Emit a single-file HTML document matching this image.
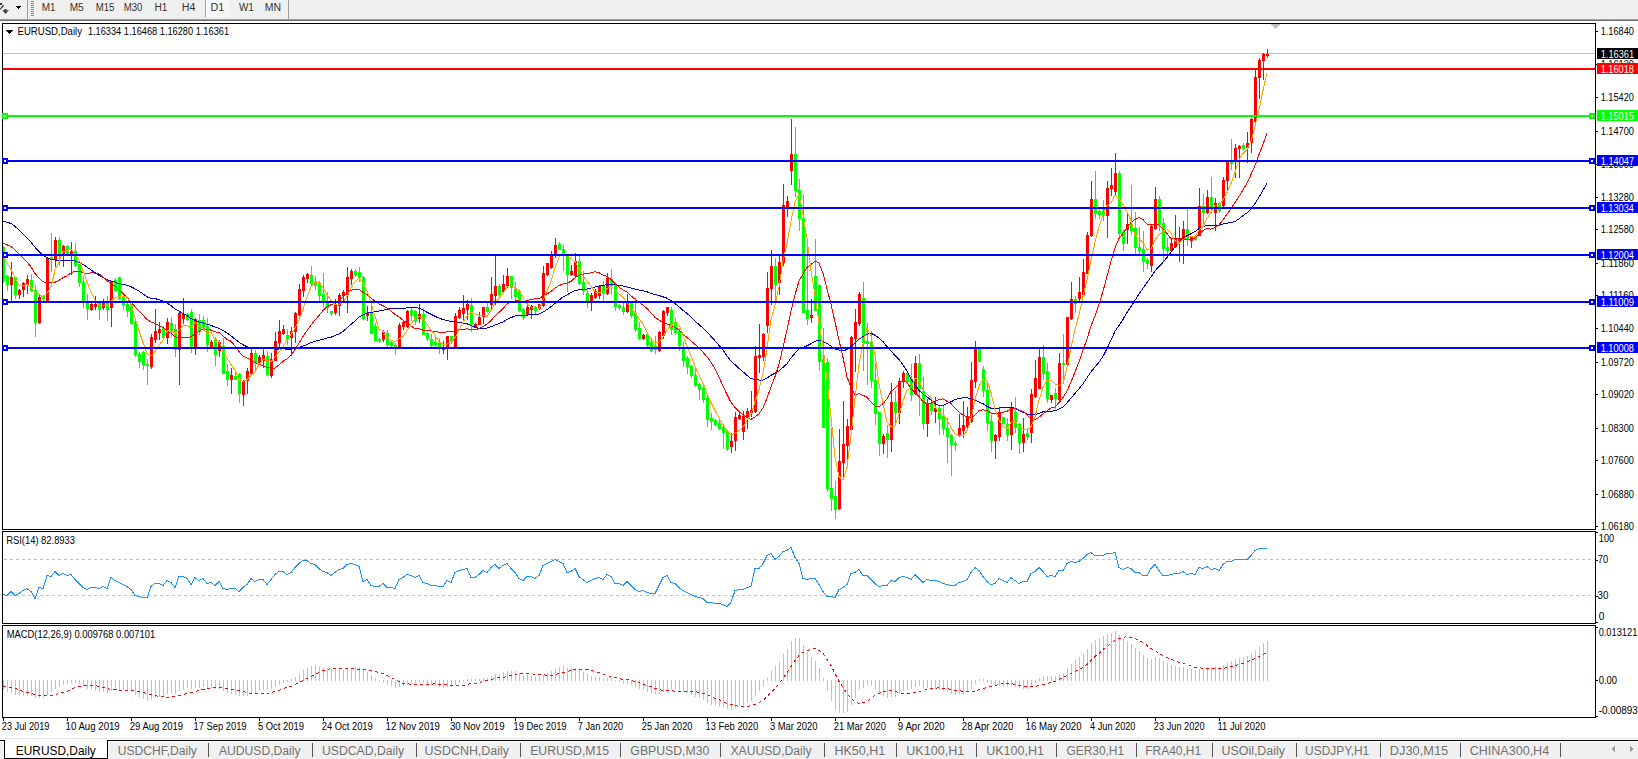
<!DOCTYPE html>
<html><head><meta charset="utf-8"><style>
html,body{margin:0;padding:0;width:1638px;height:759px;overflow:hidden;background:#fff;}
#tb{position:absolute;left:0;top:0;width:1638px;height:19px;background:#f0f0f0;font:10px "Liberation Sans",sans-serif;color:#333;line-height:16px;}
svg text{font-family:"Liberation Sans",sans-serif;}
</style></head><body>
<div id="tb"></div>
<svg style="position:absolute;left:0;top:0" width="1638" height="759" viewBox="0 0 1638 759" shape-rendering="crispEdges">
<rect x="0" y="19" width="1638" height="1" fill="#a0a0a0"/>
<rect x="0" y="20" width="1638" height="1" fill="#6e6e6e"/>
<rect x="27" y="0" width="1" height="19" fill="#a0a0a0"/>
<rect x="288" y="0" width="1" height="19" fill="#a0a0a0"/>
<rect x="205" y="0" width="1" height="17" fill="#a0a0a0"/>
<path d="M16,6 L21,6 L18.5,9 Z" fill="#000"/>
<g fill="#888"><rect x="31" y="1" width="3" height="1"/><rect x="31" y="3" width="3" height="1"/><rect x="31" y="5" width="3" height="1"/><rect x="31" y="7" width="3" height="1"/><rect x="31" y="9" width="3" height="1"/><rect x="31" y="11" width="3" height="1"/><rect x="31" y="13" width="3" height="1"/><rect x="31" y="15" width="3" height="1"/></g>
<path d="M0,3 L1.5,3 L2,4.5 L0,4.5 Z" fill="#333"/><line x1="3.6" y1="5.3" x2="0" y2="9.4" stroke="#333" stroke-width="1.3" shape-rendering="auto"/>
<path d="M2,10.2 L9,10.2 L5.5,14 Z M4,9.2 L7,9.2 L7,10.3 L4,10.3 Z" fill="#4a4a4a" shape-rendering="auto"/>
<rect x="206" y="0" width="24" height="17" fill="#f7f7f7"/>
<text x="41.69" y="11" fill="#333" font-size="10" textLength="13.80" lengthAdjust="spacingAndGlyphs">M1</text>
<text x="69.67" y="11" fill="#333" font-size="10" textLength="14.05" lengthAdjust="spacingAndGlyphs">M5</text>
<text x="95.71" y="11" fill="#333" font-size="10" textLength="18.69" lengthAdjust="spacingAndGlyphs">M15</text>
<text x="123.71" y="11" fill="#333" font-size="10" textLength="18.66" lengthAdjust="spacingAndGlyphs">M30</text>
<text x="154.46" y="11" fill="#333" font-size="10" textLength="13.03" lengthAdjust="spacingAndGlyphs">H1</text>
<text x="181.73" y="11" fill="#333" font-size="10" textLength="13.58" lengthAdjust="spacingAndGlyphs">H4</text>
<text x="210.62" y="11" fill="#333" font-size="10" textLength="13.70" lengthAdjust="spacingAndGlyphs">D1</text>
<text x="238.96" y="11" fill="#333" font-size="10" textLength="14.83" lengthAdjust="spacingAndGlyphs">W1</text>
<text x="264.74" y="11" fill="#333" font-size="10" textLength="16.32" lengthAdjust="spacingAndGlyphs">MN</text>
<rect x="2" y="23" width="1594" height="1" fill="#000"/>
<rect x="2" y="529" width="1594" height="1" fill="#000"/>
<rect x="2" y="23" width="1" height="507" fill="#000"/>
<rect x="1595" y="23" width="1" height="507" fill="#000"/>
<rect x="2" y="531" width="1594" height="1" fill="#000"/>
<rect x="2" y="623" width="1594" height="1" fill="#000"/>
<rect x="2" y="531" width="1" height="93" fill="#000"/>
<rect x="1595" y="531" width="1" height="93" fill="#000"/>
<rect x="2" y="625" width="1594" height="1" fill="#000"/>
<rect x="2" y="717" width="1594" height="1" fill="#000"/>
<rect x="2" y="625" width="1" height="93" fill="#000"/>
<rect x="1595" y="625" width="1" height="93" fill="#000"/>
<svg x="3" y="24" width="1592" height="505" viewBox="3 24 1592 505" overflow="hidden">
<rect x="3" y="53" width="1592" height="1" fill="#c0c0c0"/>
<rect x="3" y="246" width="1" height="37" fill="#00ff00"/>
<rect x="2" y="247" width="3" height="34" fill="#00ff00"/>
<rect x="7" y="275" width="1" height="16" fill="#00ff00"/>
<rect x="6" y="276" width="3" height="9" fill="#00ff00"/>
<rect x="11" y="262" width="1" height="40" fill="#ff0000"/>
<rect x="10" y="277" width="3" height="8" fill="#ff0000"/>
<rect x="15" y="277" width="1" height="22" fill="#00ff00"/>
<rect x="14" y="277" width="3" height="18" fill="#00ff00"/>
<rect x="19" y="289" width="1" height="10" fill="#ff0000"/>
<rect x="18" y="290" width="3" height="5" fill="#ff0000"/>
<rect x="23" y="282" width="1" height="15" fill="#ff0000"/>
<rect x="22" y="283" width="3" height="7" fill="#ff0000"/>
<rect x="27" y="275" width="1" height="19" fill="#ff0000"/>
<rect x="26" y="279" width="3" height="6" fill="#ff0000"/>
<rect x="31" y="274" width="1" height="18" fill="#00ff00"/>
<rect x="30" y="280" width="3" height="11" fill="#00ff00"/>
<rect x="35" y="285" width="1" height="52" fill="#00ff00"/>
<rect x="34" y="290" width="3" height="33" fill="#00ff00"/>
<rect x="39" y="295" width="1" height="29" fill="#ff0000"/>
<rect x="38" y="297" width="3" height="26" fill="#ff0000"/>
<rect x="43" y="295" width="1" height="6" fill="#00ff00"/>
<rect x="42" y="296" width="3" height="3" fill="#00ff00"/>
<rect x="47" y="258" width="1" height="44" fill="#ff0000"/>
<rect x="46" y="258" width="3" height="44" fill="#ff0000"/>
<rect x="51" y="233" width="1" height="39" fill="#00ff00"/>
<rect x="50" y="257" width="3" height="3" fill="#00ff00"/>
<rect x="55" y="237" width="1" height="30" fill="#ff0000"/>
<rect x="54" y="240" width="3" height="20" fill="#ff0000"/>
<rect x="59" y="237" width="1" height="29" fill="#00ff00"/>
<rect x="58" y="240" width="3" height="15" fill="#00ff00"/>
<rect x="63" y="245" width="1" height="22" fill="#ff0000"/>
<rect x="62" y="246" width="3" height="8" fill="#ff0000"/>
<rect x="67" y="245" width="1" height="10" fill="#00ff00"/>
<rect x="66" y="246" width="3" height="9" fill="#00ff00"/>
<rect x="71" y="242" width="1" height="33" fill="#ff0000"/>
<rect x="70" y="251" width="3" height="4" fill="#ff0000"/>
<rect x="75" y="243" width="1" height="24" fill="#00ff00"/>
<rect x="74" y="251" width="3" height="15" fill="#00ff00"/>
<rect x="79" y="264" width="1" height="23" fill="#00ff00"/>
<rect x="78" y="264" width="3" height="19" fill="#00ff00"/>
<rect x="83" y="276" width="1" height="32" fill="#00ff00"/>
<rect x="82" y="282" width="3" height="20" fill="#00ff00"/>
<rect x="87" y="294" width="1" height="26" fill="#00ff00"/>
<rect x="86" y="302" width="3" height="7" fill="#00ff00"/>
<rect x="91" y="303" width="1" height="8" fill="#ff0000"/>
<rect x="90" y="304" width="3" height="6" fill="#ff0000"/>
<rect x="95" y="296" width="1" height="14" fill="#ff0000"/>
<rect x="94" y="304" width="3" height="3" fill="#ff0000"/>
<rect x="99" y="302" width="1" height="18" fill="#00ff00"/>
<rect x="98" y="303" width="3" height="7" fill="#00ff00"/>
<rect x="103" y="299" width="1" height="11" fill="#ff0000"/>
<rect x="102" y="302" width="3" height="6" fill="#ff0000"/>
<rect x="107" y="296" width="1" height="25" fill="#00ff00"/>
<rect x="106" y="303" width="3" height="7" fill="#00ff00"/>
<rect x="111" y="281" width="1" height="46" fill="#ff0000"/>
<rect x="110" y="281" width="3" height="27" fill="#ff0000"/>
<rect x="115" y="278" width="1" height="14" fill="#00ff00"/>
<rect x="114" y="280" width="3" height="11" fill="#00ff00"/>
<rect x="119" y="277" width="1" height="23" fill="#00ff00"/>
<rect x="118" y="277" width="3" height="22" fill="#00ff00"/>
<rect x="123" y="295" width="1" height="15" fill="#00ff00"/>
<rect x="122" y="297" width="3" height="8" fill="#00ff00"/>
<rect x="127" y="303" width="1" height="14" fill="#00ff00"/>
<rect x="126" y="304" width="3" height="7" fill="#00ff00"/>
<rect x="131" y="304" width="1" height="21" fill="#00ff00"/>
<rect x="130" y="306" width="3" height="18" fill="#00ff00"/>
<rect x="135" y="320" width="1" height="37" fill="#00ff00"/>
<rect x="134" y="322" width="3" height="33" fill="#00ff00"/>
<rect x="139" y="352" width="1" height="16" fill="#00ff00"/>
<rect x="138" y="354" width="3" height="8" fill="#00ff00"/>
<rect x="143" y="351" width="1" height="19" fill="#00ff00"/>
<rect x="142" y="352" width="3" height="13" fill="#00ff00"/>
<rect x="147" y="359" width="1" height="26" fill="#00ff00"/>
<rect x="146" y="364" width="3" height="2" fill="#00ff00"/>
<rect x="151" y="334" width="1" height="35" fill="#ff0000"/>
<rect x="150" y="337" width="3" height="30" fill="#ff0000"/>
<rect x="155" y="309" width="1" height="34" fill="#ff0000"/>
<rect x="154" y="331" width="3" height="9" fill="#ff0000"/>
<rect x="159" y="322" width="1" height="18" fill="#ff0000"/>
<rect x="158" y="329" width="3" height="4" fill="#ff0000"/>
<rect x="163" y="326" width="1" height="13" fill="#00ff00"/>
<rect x="162" y="328" width="3" height="10" fill="#00ff00"/>
<rect x="167" y="318" width="1" height="26" fill="#ff0000"/>
<rect x="166" y="322" width="3" height="16" fill="#ff0000"/>
<rect x="171" y="317" width="1" height="20" fill="#00ff00"/>
<rect x="170" y="323" width="3" height="8" fill="#00ff00"/>
<rect x="175" y="324" width="1" height="33" fill="#00ff00"/>
<rect x="174" y="329" width="3" height="21" fill="#00ff00"/>
<rect x="179" y="312" width="1" height="73" fill="#ff0000"/>
<rect x="178" y="313" width="3" height="37" fill="#ff0000"/>
<rect x="183" y="298" width="1" height="26" fill="#ff0000"/>
<rect x="182" y="314" width="3" height="5" fill="#ff0000"/>
<rect x="187" y="313" width="1" height="8" fill="#00ff00"/>
<rect x="186" y="314" width="3" height="6" fill="#00ff00"/>
<rect x="191" y="309" width="1" height="44" fill="#00ff00"/>
<rect x="190" y="312" width="3" height="35" fill="#00ff00"/>
<rect x="195" y="318" width="1" height="37" fill="#ff0000"/>
<rect x="194" y="319" width="3" height="28" fill="#ff0000"/>
<rect x="199" y="314" width="1" height="21" fill="#00ff00"/>
<rect x="198" y="320" width="3" height="12" fill="#00ff00"/>
<rect x="203" y="316" width="1" height="15" fill="#00ff00"/>
<rect x="202" y="320" width="3" height="7" fill="#00ff00"/>
<rect x="207" y="318" width="1" height="34" fill="#00ff00"/>
<rect x="206" y="326" width="3" height="19" fill="#00ff00"/>
<rect x="211" y="340" width="1" height="9" fill="#ff0000"/>
<rect x="210" y="342" width="3" height="6" fill="#ff0000"/>
<rect x="215" y="337" width="1" height="29" fill="#00ff00"/>
<rect x="214" y="339" width="3" height="16" fill="#00ff00"/>
<rect x="219" y="340" width="1" height="17" fill="#ff0000"/>
<rect x="218" y="342" width="3" height="9" fill="#ff0000"/>
<rect x="223" y="338" width="1" height="36" fill="#00ff00"/>
<rect x="222" y="346" width="3" height="28" fill="#00ff00"/>
<rect x="227" y="364" width="1" height="22" fill="#00ff00"/>
<rect x="226" y="371" width="3" height="9" fill="#00ff00"/>
<rect x="231" y="368" width="1" height="26" fill="#ff0000"/>
<rect x="230" y="375" width="3" height="5" fill="#ff0000"/>
<rect x="235" y="371" width="1" height="9" fill="#00ff00"/>
<rect x="234" y="376" width="3" height="4" fill="#00ff00"/>
<rect x="239" y="373" width="1" height="30" fill="#00ff00"/>
<rect x="238" y="374" width="3" height="20" fill="#00ff00"/>
<rect x="243" y="380" width="1" height="26" fill="#ff0000"/>
<rect x="242" y="381" width="3" height="14" fill="#ff0000"/>
<rect x="247" y="368" width="1" height="26" fill="#ff0000"/>
<rect x="246" y="371" width="3" height="10" fill="#ff0000"/>
<rect x="251" y="349" width="1" height="27" fill="#ff0000"/>
<rect x="250" y="353" width="3" height="21" fill="#ff0000"/>
<rect x="255" y="350" width="1" height="21" fill="#00ff00"/>
<rect x="254" y="353" width="3" height="10" fill="#00ff00"/>
<rect x="259" y="355" width="1" height="9" fill="#ff0000"/>
<rect x="258" y="357" width="3" height="6" fill="#ff0000"/>
<rect x="263" y="349" width="1" height="19" fill="#ff0000"/>
<rect x="262" y="355" width="3" height="6" fill="#ff0000"/>
<rect x="267" y="351" width="1" height="25" fill="#00ff00"/>
<rect x="266" y="356" width="3" height="19" fill="#00ff00"/>
<rect x="271" y="353" width="1" height="25" fill="#ff0000"/>
<rect x="270" y="359" width="3" height="17" fill="#ff0000"/>
<rect x="275" y="332" width="1" height="29" fill="#ff0000"/>
<rect x="274" y="341" width="3" height="20" fill="#ff0000"/>
<rect x="279" y="320" width="1" height="27" fill="#ff0000"/>
<rect x="278" y="331" width="3" height="12" fill="#ff0000"/>
<rect x="283" y="325" width="1" height="10" fill="#ff0000"/>
<rect x="282" y="329" width="3" height="5" fill="#ff0000"/>
<rect x="287" y="329" width="1" height="16" fill="#00ff00"/>
<rect x="286" y="335" width="3" height="4" fill="#00ff00"/>
<rect x="291" y="327" width="1" height="28" fill="#ff0000"/>
<rect x="290" y="331" width="3" height="7" fill="#ff0000"/>
<rect x="295" y="312" width="1" height="31" fill="#ff0000"/>
<rect x="294" y="313" width="3" height="19" fill="#ff0000"/>
<rect x="299" y="284" width="1" height="32" fill="#ff0000"/>
<rect x="298" y="289" width="3" height="26" fill="#ff0000"/>
<rect x="303" y="275" width="1" height="22" fill="#ff0000"/>
<rect x="302" y="277" width="3" height="14" fill="#ff0000"/>
<rect x="307" y="273" width="1" height="10" fill="#ff0000"/>
<rect x="306" y="274" width="3" height="5" fill="#ff0000"/>
<rect x="311" y="266" width="1" height="20" fill="#00ff00"/>
<rect x="310" y="275" width="3" height="9" fill="#00ff00"/>
<rect x="315" y="276" width="1" height="14" fill="#00ff00"/>
<rect x="314" y="281" width="3" height="5" fill="#00ff00"/>
<rect x="319" y="281" width="1" height="21" fill="#00ff00"/>
<rect x="318" y="283" width="3" height="13" fill="#00ff00"/>
<rect x="323" y="273" width="1" height="34" fill="#00ff00"/>
<rect x="322" y="294" width="3" height="9" fill="#00ff00"/>
<rect x="327" y="292" width="1" height="21" fill="#00ff00"/>
<rect x="326" y="303" width="3" height="5" fill="#00ff00"/>
<rect x="331" y="311" width="1" height="5" fill="#00ff00"/>
<rect x="330" y="311" width="3" height="3" fill="#00ff00"/>
<rect x="335" y="299" width="1" height="16" fill="#ff0000"/>
<rect x="334" y="305" width="3" height="8" fill="#ff0000"/>
<rect x="339" y="293" width="1" height="23" fill="#ff0000"/>
<rect x="338" y="295" width="3" height="11" fill="#ff0000"/>
<rect x="343" y="290" width="1" height="11" fill="#ff0000"/>
<rect x="342" y="292" width="3" height="4" fill="#ff0000"/>
<rect x="347" y="267" width="1" height="46" fill="#ff0000"/>
<rect x="346" y="277" width="3" height="18" fill="#ff0000"/>
<rect x="351" y="269" width="1" height="16" fill="#ff0000"/>
<rect x="350" y="271" width="3" height="8" fill="#ff0000"/>
<rect x="355" y="269" width="1" height="8" fill="#00ff00"/>
<rect x="354" y="271" width="3" height="4" fill="#00ff00"/>
<rect x="359" y="267" width="1" height="15" fill="#00ff00"/>
<rect x="358" y="272" width="3" height="6" fill="#00ff00"/>
<rect x="363" y="276" width="1" height="44" fill="#00ff00"/>
<rect x="362" y="277" width="3" height="42" fill="#00ff00"/>
<rect x="367" y="306" width="1" height="15" fill="#ff0000"/>
<rect x="366" y="313" width="3" height="3" fill="#ff0000"/>
<rect x="371" y="306" width="1" height="28" fill="#00ff00"/>
<rect x="370" y="312" width="3" height="22" fill="#00ff00"/>
<rect x="375" y="323" width="1" height="19" fill="#00ff00"/>
<rect x="374" y="326" width="3" height="15" fill="#00ff00"/>
<rect x="379" y="338" width="1" height="5" fill="#00ff00"/>
<rect x="378" y="339" width="3" height="2" fill="#00ff00"/>
<rect x="383" y="330" width="1" height="12" fill="#ff0000"/>
<rect x="382" y="332" width="3" height="8" fill="#ff0000"/>
<rect x="387" y="330" width="1" height="18" fill="#00ff00"/>
<rect x="386" y="333" width="3" height="12" fill="#00ff00"/>
<rect x="391" y="341" width="1" height="8" fill="#00ff00"/>
<rect x="390" y="342" width="3" height="4" fill="#00ff00"/>
<rect x="395" y="343" width="1" height="12" fill="#00ff00"/>
<rect x="394" y="345" width="3" height="4" fill="#00ff00"/>
<rect x="399" y="323" width="1" height="26" fill="#ff0000"/>
<rect x="398" y="325" width="3" height="23" fill="#ff0000"/>
<rect x="403" y="320" width="1" height="10" fill="#ff0000"/>
<rect x="402" y="322" width="3" height="5" fill="#ff0000"/>
<rect x="407" y="310" width="1" height="18" fill="#ff0000"/>
<rect x="406" y="311" width="3" height="16" fill="#ff0000"/>
<rect x="411" y="308" width="1" height="13" fill="#00ff00"/>
<rect x="410" y="310" width="3" height="6" fill="#00ff00"/>
<rect x="415" y="310" width="1" height="15" fill="#00ff00"/>
<rect x="414" y="311" width="3" height="10" fill="#00ff00"/>
<rect x="419" y="304" width="1" height="19" fill="#ff0000"/>
<rect x="418" y="314" width="3" height="5" fill="#ff0000"/>
<rect x="423" y="308" width="1" height="27" fill="#00ff00"/>
<rect x="422" y="314" width="3" height="21" fill="#00ff00"/>
<rect x="427" y="332" width="1" height="9" fill="#00ff00"/>
<rect x="426" y="333" width="3" height="6" fill="#00ff00"/>
<rect x="431" y="334" width="1" height="14" fill="#00ff00"/>
<rect x="430" y="339" width="3" height="7" fill="#00ff00"/>
<rect x="435" y="337" width="1" height="11" fill="#00ff00"/>
<rect x="434" y="342" width="3" height="3" fill="#00ff00"/>
<rect x="439" y="338" width="1" height="16" fill="#00ff00"/>
<rect x="438" y="343" width="3" height="6" fill="#00ff00"/>
<rect x="443" y="341" width="1" height="13" fill="#ff0000"/>
<rect x="442" y="347" width="3" height="3" fill="#ff0000"/>
<rect x="447" y="336" width="1" height="24" fill="#ff0000"/>
<rect x="446" y="336" width="3" height="11" fill="#ff0000"/>
<rect x="451" y="336" width="1" height="8" fill="#00ff00"/>
<rect x="450" y="336" width="3" height="6" fill="#00ff00"/>
<rect x="455" y="313" width="1" height="35" fill="#ff0000"/>
<rect x="454" y="316" width="3" height="31" fill="#ff0000"/>
<rect x="459" y="307" width="1" height="12" fill="#ff0000"/>
<rect x="458" y="310" width="3" height="8" fill="#ff0000"/>
<rect x="463" y="295" width="1" height="25" fill="#ff0000"/>
<rect x="462" y="308" width="3" height="6" fill="#ff0000"/>
<rect x="467" y="300" width="1" height="20" fill="#ff0000"/>
<rect x="466" y="304" width="3" height="6" fill="#ff0000"/>
<rect x="471" y="298" width="1" height="34" fill="#00ff00"/>
<rect x="470" y="305" width="3" height="20" fill="#00ff00"/>
<rect x="475" y="323" width="1" height="5" fill="#ff0000"/>
<rect x="474" y="324" width="3" height="3" fill="#ff0000"/>
<rect x="479" y="312" width="1" height="13" fill="#ff0000"/>
<rect x="478" y="317" width="3" height="8" fill="#ff0000"/>
<rect x="483" y="307" width="1" height="17" fill="#ff0000"/>
<rect x="482" y="307" width="3" height="10" fill="#ff0000"/>
<rect x="487" y="303" width="1" height="10" fill="#00ff00"/>
<rect x="486" y="307" width="3" height="5" fill="#00ff00"/>
<rect x="491" y="277" width="1" height="33" fill="#ff0000"/>
<rect x="490" y="294" width="3" height="11" fill="#ff0000"/>
<rect x="495" y="255" width="1" height="50" fill="#ff0000"/>
<rect x="494" y="286" width="3" height="10" fill="#ff0000"/>
<rect x="499" y="284" width="1" height="15" fill="#00ff00"/>
<rect x="498" y="286" width="3" height="9" fill="#00ff00"/>
<rect x="503" y="275" width="1" height="18" fill="#ff0000"/>
<rect x="502" y="284" width="3" height="8" fill="#ff0000"/>
<rect x="507" y="268" width="1" height="20" fill="#ff0000"/>
<rect x="506" y="276" width="3" height="10" fill="#ff0000"/>
<rect x="511" y="276" width="1" height="23" fill="#00ff00"/>
<rect x="510" y="276" width="3" height="12" fill="#00ff00"/>
<rect x="515" y="282" width="1" height="19" fill="#00ff00"/>
<rect x="514" y="289" width="3" height="8" fill="#00ff00"/>
<rect x="519" y="289" width="1" height="23" fill="#00ff00"/>
<rect x="518" y="291" width="3" height="20" fill="#00ff00"/>
<rect x="523" y="308" width="1" height="12" fill="#00ff00"/>
<rect x="522" y="309" width="3" height="9" fill="#00ff00"/>
<rect x="527" y="305" width="1" height="11" fill="#ff0000"/>
<rect x="526" y="307" width="3" height="8" fill="#ff0000"/>
<rect x="531" y="305" width="1" height="14" fill="#ff0000"/>
<rect x="530" y="306" width="3" height="4" fill="#ff0000"/>
<rect x="535" y="306" width="1" height="9" fill="#00ff00"/>
<rect x="534" y="307" width="3" height="4" fill="#00ff00"/>
<rect x="539" y="304" width="1" height="6" fill="#ff0000"/>
<rect x="538" y="304" width="3" height="5" fill="#ff0000"/>
<rect x="543" y="266" width="1" height="41" fill="#ff0000"/>
<rect x="542" y="273" width="3" height="33" fill="#ff0000"/>
<rect x="547" y="263" width="1" height="13" fill="#ff0000"/>
<rect x="546" y="263" width="3" height="12" fill="#ff0000"/>
<rect x="551" y="251" width="1" height="18" fill="#ff0000"/>
<rect x="550" y="256" width="3" height="12" fill="#ff0000"/>
<rect x="555" y="238" width="1" height="20" fill="#ff0000"/>
<rect x="554" y="245" width="3" height="9" fill="#ff0000"/>
<rect x="559" y="242" width="1" height="8" fill="#00ff00"/>
<rect x="558" y="244" width="3" height="6" fill="#00ff00"/>
<rect x="563" y="245" width="1" height="26" fill="#00ff00"/>
<rect x="562" y="249" width="3" height="5" fill="#00ff00"/>
<rect x="567" y="256" width="1" height="36" fill="#00ff00"/>
<rect x="566" y="256" width="3" height="19" fill="#00ff00"/>
<rect x="571" y="265" width="1" height="11" fill="#ff0000"/>
<rect x="570" y="271" width="3" height="4" fill="#ff0000"/>
<rect x="575" y="253" width="1" height="24" fill="#ff0000"/>
<rect x="574" y="261" width="3" height="15" fill="#ff0000"/>
<rect x="579" y="256" width="1" height="29" fill="#00ff00"/>
<rect x="578" y="261" width="3" height="23" fill="#00ff00"/>
<rect x="583" y="271" width="1" height="24" fill="#00ff00"/>
<rect x="582" y="282" width="3" height="9" fill="#00ff00"/>
<rect x="587" y="290" width="1" height="18" fill="#00ff00"/>
<rect x="586" y="293" width="3" height="9" fill="#00ff00"/>
<rect x="591" y="293" width="1" height="18" fill="#ff0000"/>
<rect x="590" y="295" width="3" height="6" fill="#ff0000"/>
<rect x="595" y="289" width="1" height="10" fill="#ff0000"/>
<rect x="594" y="291" width="3" height="7" fill="#ff0000"/>
<rect x="599" y="285" width="1" height="14" fill="#ff0000"/>
<rect x="598" y="286" width="3" height="10" fill="#ff0000"/>
<rect x="603" y="281" width="1" height="21" fill="#00ff00"/>
<rect x="602" y="286" width="3" height="8" fill="#00ff00"/>
<rect x="607" y="273" width="1" height="22" fill="#ff0000"/>
<rect x="606" y="278" width="3" height="16" fill="#ff0000"/>
<rect x="611" y="269" width="1" height="26" fill="#00ff00"/>
<rect x="610" y="279" width="3" height="7" fill="#00ff00"/>
<rect x="615" y="283" width="1" height="28" fill="#00ff00"/>
<rect x="614" y="284" width="3" height="23" fill="#00ff00"/>
<rect x="619" y="304" width="1" height="6" fill="#00ff00"/>
<rect x="618" y="305" width="3" height="3" fill="#00ff00"/>
<rect x="623" y="302" width="1" height="13" fill="#00ff00"/>
<rect x="622" y="307" width="3" height="5" fill="#00ff00"/>
<rect x="627" y="294" width="1" height="19" fill="#ff0000"/>
<rect x="626" y="302" width="3" height="10" fill="#ff0000"/>
<rect x="631" y="302" width="1" height="16" fill="#00ff00"/>
<rect x="630" y="303" width="3" height="13" fill="#00ff00"/>
<rect x="635" y="298" width="1" height="34" fill="#00ff00"/>
<rect x="634" y="313" width="3" height="17" fill="#00ff00"/>
<rect x="639" y="322" width="1" height="18" fill="#00ff00"/>
<rect x="638" y="328" width="3" height="11" fill="#00ff00"/>
<rect x="643" y="334" width="1" height="6" fill="#ff0000"/>
<rect x="642" y="335" width="3" height="4" fill="#ff0000"/>
<rect x="647" y="332" width="1" height="15" fill="#00ff00"/>
<rect x="646" y="334" width="3" height="11" fill="#00ff00"/>
<rect x="651" y="338" width="1" height="14" fill="#00ff00"/>
<rect x="650" y="342" width="3" height="9" fill="#00ff00"/>
<rect x="655" y="336" width="1" height="18" fill="#00ff00"/>
<rect x="654" y="346" width="3" height="4" fill="#00ff00"/>
<rect x="659" y="331" width="1" height="21" fill="#ff0000"/>
<rect x="658" y="332" width="3" height="19" fill="#ff0000"/>
<rect x="663" y="310" width="1" height="29" fill="#ff0000"/>
<rect x="662" y="311" width="3" height="25" fill="#ff0000"/>
<rect x="667" y="307" width="1" height="9" fill="#ff0000"/>
<rect x="666" y="307" width="3" height="6" fill="#ff0000"/>
<rect x="671" y="307" width="1" height="28" fill="#00ff00"/>
<rect x="670" y="310" width="3" height="20" fill="#00ff00"/>
<rect x="675" y="318" width="1" height="17" fill="#00ff00"/>
<rect x="674" y="322" width="3" height="11" fill="#00ff00"/>
<rect x="679" y="328" width="1" height="23" fill="#00ff00"/>
<rect x="678" y="331" width="3" height="15" fill="#00ff00"/>
<rect x="683" y="342" width="1" height="25" fill="#00ff00"/>
<rect x="682" y="347" width="3" height="14" fill="#00ff00"/>
<rect x="687" y="356" width="1" height="18" fill="#00ff00"/>
<rect x="686" y="358" width="3" height="9" fill="#00ff00"/>
<rect x="691" y="365" width="1" height="13" fill="#00ff00"/>
<rect x="690" y="366" width="3" height="10" fill="#00ff00"/>
<rect x="695" y="368" width="1" height="19" fill="#00ff00"/>
<rect x="694" y="375" width="3" height="11" fill="#00ff00"/>
<rect x="699" y="383" width="1" height="17" fill="#00ff00"/>
<rect x="698" y="384" width="3" height="6" fill="#00ff00"/>
<rect x="703" y="384" width="1" height="19" fill="#00ff00"/>
<rect x="702" y="388" width="3" height="12" fill="#00ff00"/>
<rect x="707" y="396" width="1" height="31" fill="#00ff00"/>
<rect x="706" y="398" width="3" height="22" fill="#00ff00"/>
<rect x="711" y="413" width="1" height="17" fill="#00ff00"/>
<rect x="710" y="418" width="3" height="4" fill="#00ff00"/>
<rect x="715" y="419" width="1" height="7" fill="#00ff00"/>
<rect x="714" y="420" width="3" height="5" fill="#00ff00"/>
<rect x="719" y="418" width="1" height="12" fill="#00ff00"/>
<rect x="718" y="423" width="3" height="6" fill="#00ff00"/>
<rect x="723" y="424" width="1" height="25" fill="#00ff00"/>
<rect x="722" y="427" width="3" height="6" fill="#00ff00"/>
<rect x="727" y="430" width="1" height="21" fill="#00ff00"/>
<rect x="726" y="431" width="3" height="18" fill="#00ff00"/>
<rect x="731" y="433" width="1" height="20" fill="#ff0000"/>
<rect x="730" y="441" width="3" height="6" fill="#ff0000"/>
<rect x="735" y="412" width="1" height="39" fill="#ff0000"/>
<rect x="734" y="417" width="3" height="24" fill="#ff0000"/>
<rect x="739" y="412" width="1" height="8" fill="#ff0000"/>
<rect x="738" y="415" width="3" height="4" fill="#ff0000"/>
<rect x="743" y="411" width="1" height="29" fill="#ff0000"/>
<rect x="742" y="416" width="3" height="16" fill="#ff0000"/>
<rect x="747" y="408" width="1" height="21" fill="#ff0000"/>
<rect x="746" y="411" width="3" height="6" fill="#ff0000"/>
<rect x="751" y="391" width="1" height="26" fill="#ff0000"/>
<rect x="750" y="410" width="3" height="3" fill="#ff0000"/>
<rect x="755" y="346" width="1" height="67" fill="#ff0000"/>
<rect x="754" y="356" width="3" height="56" fill="#ff0000"/>
<rect x="759" y="324" width="1" height="49" fill="#ff0000"/>
<rect x="758" y="355" width="3" height="3" fill="#ff0000"/>
<rect x="763" y="333" width="1" height="28" fill="#ff0000"/>
<rect x="762" y="334" width="3" height="23" fill="#ff0000"/>
<rect x="767" y="272" width="1" height="61" fill="#ff0000"/>
<rect x="766" y="288" width="3" height="38" fill="#ff0000"/>
<rect x="771" y="250" width="1" height="55" fill="#ff0000"/>
<rect x="770" y="266" width="3" height="23" fill="#ff0000"/>
<rect x="775" y="258" width="1" height="46" fill="#00ff00"/>
<rect x="774" y="266" width="3" height="19" fill="#00ff00"/>
<rect x="779" y="256" width="1" height="39" fill="#ff0000"/>
<rect x="778" y="262" width="3" height="21" fill="#ff0000"/>
<rect x="783" y="184" width="1" height="82" fill="#ff0000"/>
<rect x="782" y="205" width="3" height="58" fill="#ff0000"/>
<rect x="787" y="196" width="1" height="21" fill="#ff0000"/>
<rect x="786" y="201" width="3" height="6" fill="#ff0000"/>
<rect x="791" y="119" width="1" height="66" fill="#ff0000"/>
<rect x="790" y="154" width="3" height="17" fill="#ff0000"/>
<rect x="795" y="127" width="1" height="70" fill="#00ff00"/>
<rect x="794" y="154" width="3" height="37" fill="#00ff00"/>
<rect x="799" y="179" width="1" height="52" fill="#00ff00"/>
<rect x="798" y="190" width="3" height="29" fill="#00ff00"/>
<rect x="803" y="194" width="1" height="119" fill="#00ff00"/>
<rect x="802" y="218" width="3" height="95" fill="#00ff00"/>
<rect x="807" y="244" width="1" height="81" fill="#00ff00"/>
<rect x="806" y="310" width="3" height="9" fill="#00ff00"/>
<rect x="811" y="299" width="1" height="24" fill="#ff0000"/>
<rect x="810" y="315" width="3" height="3" fill="#ff0000"/>
<rect x="815" y="239" width="1" height="72" fill="#00ff00"/>
<rect x="814" y="276" width="3" height="35" fill="#00ff00"/>
<rect x="819" y="284" width="1" height="87" fill="#00ff00"/>
<rect x="818" y="285" width="3" height="77" fill="#00ff00"/>
<rect x="823" y="328" width="1" height="100" fill="#00ff00"/>
<rect x="822" y="359" width="3" height="69" fill="#00ff00"/>
<rect x="827" y="358" width="1" height="134" fill="#00ff00"/>
<rect x="826" y="362" width="3" height="127" fill="#00ff00"/>
<rect x="831" y="428" width="1" height="83" fill="#00ff00"/>
<rect x="830" y="488" width="3" height="11" fill="#00ff00"/>
<rect x="835" y="481" width="1" height="38" fill="#00ff00"/>
<rect x="834" y="496" width="3" height="14" fill="#00ff00"/>
<rect x="839" y="429" width="1" height="81" fill="#ff0000"/>
<rect x="838" y="461" width="3" height="48" fill="#ff0000"/>
<rect x="843" y="401" width="1" height="79" fill="#ff0000"/>
<rect x="842" y="444" width="3" height="19" fill="#ff0000"/>
<rect x="847" y="419" width="1" height="44" fill="#ff0000"/>
<rect x="846" y="426" width="3" height="20" fill="#ff0000"/>
<rect x="851" y="336" width="1" height="94" fill="#ff0000"/>
<rect x="850" y="337" width="3" height="93" fill="#ff0000"/>
<rect x="855" y="309" width="1" height="63" fill="#ff0000"/>
<rect x="854" y="322" width="3" height="17" fill="#ff0000"/>
<rect x="859" y="292" width="1" height="34" fill="#ff0000"/>
<rect x="858" y="294" width="3" height="30" fill="#ff0000"/>
<rect x="863" y="282" width="1" height="89" fill="#00ff00"/>
<rect x="862" y="298" width="3" height="45" fill="#00ff00"/>
<rect x="867" y="323" width="1" height="62" fill="#00ff00"/>
<rect x="866" y="341" width="3" height="3" fill="#00ff00"/>
<rect x="871" y="331" width="1" height="57" fill="#00ff00"/>
<rect x="870" y="342" width="3" height="39" fill="#00ff00"/>
<rect x="875" y="363" width="1" height="62" fill="#00ff00"/>
<rect x="874" y="380" width="3" height="34" fill="#00ff00"/>
<rect x="879" y="412" width="1" height="44" fill="#00ff00"/>
<rect x="878" y="412" width="3" height="32" fill="#00ff00"/>
<rect x="883" y="434" width="1" height="20" fill="#ff0000"/>
<rect x="882" y="436" width="3" height="8" fill="#ff0000"/>
<rect x="887" y="425" width="1" height="33" fill="#00ff00"/>
<rect x="886" y="433" width="3" height="7" fill="#00ff00"/>
<rect x="891" y="383" width="1" height="69" fill="#ff0000"/>
<rect x="890" y="402" width="3" height="38" fill="#ff0000"/>
<rect x="895" y="391" width="1" height="33" fill="#00ff00"/>
<rect x="894" y="402" width="3" height="11" fill="#00ff00"/>
<rect x="899" y="378" width="1" height="46" fill="#ff0000"/>
<rect x="898" y="381" width="3" height="32" fill="#ff0000"/>
<rect x="903" y="371" width="1" height="17" fill="#ff0000"/>
<rect x="902" y="373" width="3" height="9" fill="#ff0000"/>
<rect x="907" y="372" width="1" height="11" fill="#00ff00"/>
<rect x="906" y="373" width="3" height="9" fill="#00ff00"/>
<rect x="911" y="364" width="1" height="37" fill="#00ff00"/>
<rect x="910" y="379" width="3" height="16" fill="#00ff00"/>
<rect x="915" y="356" width="1" height="39" fill="#ff0000"/>
<rect x="914" y="363" width="3" height="31" fill="#ff0000"/>
<rect x="919" y="354" width="1" height="62" fill="#00ff00"/>
<rect x="918" y="363" width="3" height="26" fill="#00ff00"/>
<rect x="923" y="377" width="1" height="53" fill="#00ff00"/>
<rect x="922" y="391" width="3" height="33" fill="#00ff00"/>
<rect x="927" y="399" width="1" height="38" fill="#ff0000"/>
<rect x="926" y="403" width="3" height="21" fill="#ff0000"/>
<rect x="931" y="401" width="1" height="14" fill="#00ff00"/>
<rect x="930" y="403" width="3" height="8" fill="#00ff00"/>
<rect x="935" y="397" width="1" height="26" fill="#ff0000"/>
<rect x="934" y="408" width="3" height="4" fill="#ff0000"/>
<rect x="939" y="406" width="1" height="29" fill="#00ff00"/>
<rect x="938" y="408" width="3" height="11" fill="#00ff00"/>
<rect x="943" y="406" width="1" height="29" fill="#00ff00"/>
<rect x="942" y="416" width="3" height="13" fill="#00ff00"/>
<rect x="947" y="418" width="1" height="45" fill="#00ff00"/>
<rect x="946" y="428" width="3" height="9" fill="#00ff00"/>
<rect x="951" y="434" width="1" height="42" fill="#00ff00"/>
<rect x="950" y="435" width="3" height="10" fill="#00ff00"/>
<rect x="955" y="441" width="1" height="10" fill="#00ff00"/>
<rect x="954" y="443" width="3" height="2" fill="#00ff00"/>
<rect x="959" y="414" width="1" height="23" fill="#ff0000"/>
<rect x="958" y="428" width="3" height="8" fill="#ff0000"/>
<rect x="963" y="401" width="1" height="37" fill="#ff0000"/>
<rect x="962" y="425" width="3" height="6" fill="#ff0000"/>
<rect x="967" y="407" width="1" height="21" fill="#ff0000"/>
<rect x="966" y="416" width="3" height="11" fill="#ff0000"/>
<rect x="971" y="362" width="1" height="61" fill="#ff0000"/>
<rect x="970" y="380" width="3" height="42" fill="#ff0000"/>
<rect x="975" y="341" width="1" height="47" fill="#ff0000"/>
<rect x="974" y="349" width="3" height="33" fill="#ff0000"/>
<rect x="979" y="349" width="1" height="13" fill="#00ff00"/>
<rect x="978" y="349" width="3" height="13" fill="#00ff00"/>
<rect x="983" y="366" width="1" height="31" fill="#00ff00"/>
<rect x="982" y="369" width="3" height="22" fill="#00ff00"/>
<rect x="987" y="383" width="1" height="48" fill="#00ff00"/>
<rect x="986" y="390" width="3" height="33" fill="#00ff00"/>
<rect x="991" y="415" width="1" height="37" fill="#00ff00"/>
<rect x="990" y="421" width="3" height="20" fill="#00ff00"/>
<rect x="995" y="434" width="1" height="25" fill="#ff0000"/>
<rect x="994" y="435" width="3" height="6" fill="#ff0000"/>
<rect x="999" y="407" width="1" height="34" fill="#ff0000"/>
<rect x="998" y="412" width="3" height="25" fill="#ff0000"/>
<rect x="1003" y="417" width="1" height="8" fill="#00ff00"/>
<rect x="1002" y="417" width="3" height="7" fill="#00ff00"/>
<rect x="1007" y="418" width="1" height="23" fill="#00ff00"/>
<rect x="1006" y="424" width="3" height="11" fill="#00ff00"/>
<rect x="1011" y="402" width="1" height="48" fill="#ff0000"/>
<rect x="1010" y="408" width="3" height="27" fill="#ff0000"/>
<rect x="1015" y="397" width="1" height="36" fill="#00ff00"/>
<rect x="1014" y="412" width="3" height="16" fill="#00ff00"/>
<rect x="1019" y="423" width="1" height="31" fill="#00ff00"/>
<rect x="1018" y="424" width="3" height="19" fill="#00ff00"/>
<rect x="1023" y="418" width="1" height="34" fill="#ff0000"/>
<rect x="1022" y="434" width="3" height="9" fill="#ff0000"/>
<rect x="1027" y="430" width="1" height="10" fill="#00ff00"/>
<rect x="1026" y="433" width="3" height="4" fill="#00ff00"/>
<rect x="1031" y="389" width="1" height="54" fill="#ff0000"/>
<rect x="1030" y="394" width="3" height="39" fill="#ff0000"/>
<rect x="1035" y="360" width="1" height="38" fill="#ff0000"/>
<rect x="1034" y="378" width="3" height="19" fill="#ff0000"/>
<rect x="1039" y="349" width="1" height="40" fill="#ff0000"/>
<rect x="1038" y="357" width="3" height="32" fill="#ff0000"/>
<rect x="1043" y="345" width="1" height="35" fill="#00ff00"/>
<rect x="1042" y="357" width="3" height="17" fill="#00ff00"/>
<rect x="1047" y="363" width="1" height="40" fill="#00ff00"/>
<rect x="1046" y="371" width="3" height="28" fill="#00ff00"/>
<rect x="1051" y="395" width="1" height="8" fill="#ff0000"/>
<rect x="1050" y="395" width="3" height="5" fill="#ff0000"/>
<rect x="1055" y="388" width="1" height="21" fill="#00ff00"/>
<rect x="1054" y="393" width="3" height="6" fill="#00ff00"/>
<rect x="1059" y="353" width="1" height="48" fill="#ff0000"/>
<rect x="1058" y="363" width="3" height="37" fill="#ff0000"/>
<rect x="1063" y="334" width="1" height="47" fill="#00ff00"/>
<rect x="1062" y="363" width="3" height="2" fill="#00ff00"/>
<rect x="1067" y="317" width="1" height="48" fill="#ff0000"/>
<rect x="1066" y="317" width="3" height="48" fill="#ff0000"/>
<rect x="1071" y="282" width="1" height="38" fill="#ff0000"/>
<rect x="1070" y="299" width="3" height="20" fill="#ff0000"/>
<rect x="1075" y="296" width="1" height="17" fill="#00ff00"/>
<rect x="1074" y="299" width="3" height="5" fill="#00ff00"/>
<rect x="1079" y="277" width="1" height="24" fill="#ff0000"/>
<rect x="1078" y="292" width="3" height="7" fill="#ff0000"/>
<rect x="1083" y="259" width="1" height="37" fill="#ff0000"/>
<rect x="1082" y="272" width="3" height="23" fill="#ff0000"/>
<rect x="1087" y="232" width="1" height="42" fill="#ff0000"/>
<rect x="1086" y="235" width="3" height="39" fill="#ff0000"/>
<rect x="1091" y="181" width="1" height="56" fill="#ff0000"/>
<rect x="1090" y="199" width="3" height="37" fill="#ff0000"/>
<rect x="1095" y="171" width="1" height="48" fill="#00ff00"/>
<rect x="1094" y="199" width="3" height="15" fill="#00ff00"/>
<rect x="1099" y="209" width="1" height="10" fill="#00ff00"/>
<rect x="1098" y="211" width="3" height="4" fill="#00ff00"/>
<rect x="1103" y="200" width="1" height="21" fill="#00ff00"/>
<rect x="1102" y="208" width="3" height="7" fill="#00ff00"/>
<rect x="1107" y="181" width="1" height="57" fill="#ff0000"/>
<rect x="1106" y="188" width="3" height="28" fill="#ff0000"/>
<rect x="1111" y="168" width="1" height="28" fill="#ff0000"/>
<rect x="1110" y="185" width="3" height="4" fill="#ff0000"/>
<rect x="1115" y="153" width="1" height="42" fill="#ff0000"/>
<rect x="1114" y="173" width="3" height="19" fill="#ff0000"/>
<rect x="1119" y="171" width="1" height="67" fill="#00ff00"/>
<rect x="1118" y="173" width="3" height="61" fill="#00ff00"/>
<rect x="1123" y="230" width="1" height="21" fill="#00ff00"/>
<rect x="1122" y="232" width="3" height="12" fill="#00ff00"/>
<rect x="1127" y="213" width="1" height="31" fill="#ff0000"/>
<rect x="1126" y="224" width="3" height="6" fill="#ff0000"/>
<rect x="1131" y="185" width="1" height="50" fill="#00ff00"/>
<rect x="1130" y="224" width="3" height="7" fill="#00ff00"/>
<rect x="1135" y="212" width="1" height="42" fill="#00ff00"/>
<rect x="1134" y="228" width="3" height="20" fill="#00ff00"/>
<rect x="1139" y="227" width="1" height="28" fill="#00ff00"/>
<rect x="1138" y="247" width="3" height="4" fill="#00ff00"/>
<rect x="1143" y="231" width="1" height="41" fill="#00ff00"/>
<rect x="1142" y="249" width="3" height="13" fill="#00ff00"/>
<rect x="1147" y="258" width="1" height="11" fill="#00ff00"/>
<rect x="1146" y="260" width="3" height="4" fill="#00ff00"/>
<rect x="1151" y="224" width="1" height="48" fill="#ff0000"/>
<rect x="1150" y="226" width="3" height="40" fill="#ff0000"/>
<rect x="1155" y="187" width="1" height="43" fill="#ff0000"/>
<rect x="1154" y="199" width="3" height="30" fill="#ff0000"/>
<rect x="1159" y="196" width="1" height="35" fill="#00ff00"/>
<rect x="1158" y="199" width="3" height="26" fill="#00ff00"/>
<rect x="1163" y="218" width="1" height="43" fill="#00ff00"/>
<rect x="1162" y="223" width="3" height="26" fill="#00ff00"/>
<rect x="1167" y="238" width="1" height="18" fill="#00ff00"/>
<rect x="1166" y="247" width="3" height="4" fill="#00ff00"/>
<rect x="1171" y="238" width="1" height="14" fill="#ff0000"/>
<rect x="1170" y="243" width="3" height="8" fill="#ff0000"/>
<rect x="1175" y="215" width="1" height="33" fill="#ff0000"/>
<rect x="1174" y="238" width="3" height="9" fill="#ff0000"/>
<rect x="1179" y="227" width="1" height="35" fill="#ff0000"/>
<rect x="1178" y="238" width="3" height="3" fill="#ff0000"/>
<rect x="1183" y="221" width="1" height="43" fill="#ff0000"/>
<rect x="1182" y="229" width="3" height="11" fill="#ff0000"/>
<rect x="1187" y="209" width="1" height="37" fill="#00ff00"/>
<rect x="1186" y="229" width="3" height="11" fill="#00ff00"/>
<rect x="1191" y="236" width="1" height="12" fill="#ff0000"/>
<rect x="1190" y="237" width="3" height="4" fill="#ff0000"/>
<rect x="1195" y="236" width="1" height="5" fill="#00ff00"/>
<rect x="1194" y="237" width="3" height="3" fill="#00ff00"/>
<rect x="1199" y="188" width="1" height="48" fill="#ff0000"/>
<rect x="1198" y="206" width="3" height="30" fill="#ff0000"/>
<rect x="1203" y="194" width="1" height="33" fill="#00ff00"/>
<rect x="1202" y="206" width="3" height="7" fill="#00ff00"/>
<rect x="1207" y="190" width="1" height="24" fill="#ff0000"/>
<rect x="1206" y="197" width="3" height="16" fill="#ff0000"/>
<rect x="1211" y="177" width="1" height="36" fill="#00ff00"/>
<rect x="1210" y="197" width="3" height="12" fill="#00ff00"/>
<rect x="1215" y="198" width="1" height="33" fill="#ff0000"/>
<rect x="1214" y="203" width="3" height="10" fill="#ff0000"/>
<rect x="1219" y="202" width="1" height="11" fill="#00ff00"/>
<rect x="1218" y="203" width="3" height="8" fill="#00ff00"/>
<rect x="1223" y="177" width="1" height="31" fill="#ff0000"/>
<rect x="1222" y="180" width="3" height="26" fill="#ff0000"/>
<rect x="1227" y="161" width="1" height="32" fill="#ff0000"/>
<rect x="1226" y="162" width="3" height="19" fill="#ff0000"/>
<rect x="1231" y="139" width="1" height="31" fill="#00ff00"/>
<rect x="1230" y="161" width="3" height="3" fill="#00ff00"/>
<rect x="1235" y="144" width="1" height="34" fill="#ff0000"/>
<rect x="1234" y="148" width="3" height="13" fill="#ff0000"/>
<rect x="1239" y="145" width="1" height="33" fill="#ff0000"/>
<rect x="1238" y="146" width="3" height="3" fill="#ff0000"/>
<rect x="1243" y="143" width="1" height="8" fill="#00ff00"/>
<rect x="1242" y="145" width="3" height="4" fill="#00ff00"/>
<rect x="1247" y="132" width="1" height="31" fill="#ff0000"/>
<rect x="1246" y="143" width="3" height="5" fill="#ff0000"/>
<rect x="1251" y="118" width="1" height="35" fill="#ff0000"/>
<rect x="1250" y="119" width="3" height="24" fill="#ff0000"/>
<rect x="1255" y="70" width="1" height="52" fill="#ff0000"/>
<rect x="1254" y="77" width="3" height="45" fill="#ff0000"/>
<rect x="1259" y="58" width="1" height="41" fill="#ff0000"/>
<rect x="1258" y="60" width="3" height="18" fill="#ff0000"/>
<rect x="1263" y="53" width="1" height="27" fill="#ff0000"/>
<rect x="1262" y="54" width="3" height="7" fill="#ff0000"/>
<rect x="1267" y="49" width="1" height="9" fill="#ff0000"/>
<rect x="1266" y="54" width="3" height="2" fill="#ff0000"/>
<polyline points="3,221.3 7,222.2 11,223.5 15,226.4 19,230.1 23,234.1 27,238.1 31,242.2 35,247.3 39,251.4 43,255.3 47,257.5 51,259.3 55,260.1 59,260.9 63,261.0 67,260.9 71,260.6 75,261.0 79,262.3 83,264.4 87,267.1 91,269.9 95,272.6 99,275.3 103,277.5 107,279.7 111,280.9 115,282.1 119,283.6 123,284.4 127,285.3 131,286.8 135,288.8 139,291.2 143,293.9 147,296.8 151,298.3 155,298.6 159,299.7 163,301.0 167,303.1 171,305.5 175,309.1 179,311.1 183,313.4 187,315.5 191,318.7 195,320.5 199,322.1 203,323.0 207,324.2 211,325.4 215,327.1 219,328.2 223,330.6 227,332.9 231,336.0 235,339.0 239,342.2 243,344.7 247,346.8 251,347.8 255,348.0 259,347.9 263,347.6 267,347.9 271,348.6 275,349.0 279,349.0 283,348.8 287,349.3 291,349.3 295,348.1 299,347.3 303,346.1 307,344.6 311,342.5 315,341.4 319,340.2 323,339.4 327,338.1 331,337.2 335,335.5 339,334.0 343,331.3 347,327.9 351,324.4 355,320.9 359,317.0 363,314.9 367,313.0 371,312.3 375,311.6 379,311.0 383,310.3 387,309.3 391,308.8 395,309.0 399,308.8 403,308.6 407,307.7 411,307.2 415,307.4 419,308.2 423,310.1 427,312.3 431,314.3 435,316.3 439,318.1 443,319.6 447,320.5 451,321.5 455,321.8 459,322.3 463,322.9 467,323.8 471,325.5 475,327.2 479,328.5 483,328.2 487,328.1 491,326.8 495,325.0 499,323.5 503,321.9 507,319.6 511,317.7 515,315.9 519,315.4 523,315.3 527,315.1 531,314.8 535,314.5 539,314.2 543,312.1 547,309.6 551,306.7 555,303.4 559,300.1 563,296.9 567,294.9 571,292.5 575,290.7 579,289.8 583,289.2 587,289.1 591,288.1 595,287.0 599,286.0 603,285.5 607,284.4 611,284.1 615,284.8 619,285.2 623,286.1 627,287.0 631,287.9 635,289.0 639,290.0 643,290.6 647,291.8 651,293.3 655,294.6 659,295.5 663,296.8 667,298.2 671,300.7 675,303.6 679,306.8 683,310.3 687,313.4 691,316.9 695,321.0 699,324.5 703,328.2 707,332.1 711,336.3 715,340.7 719,345.5 723,350.1 727,355.8 731,361.0 735,364.7 739,368.3 743,371.8 747,375.4 751,378.6 755,379.5 759,380.0 763,380.0 767,378.1 771,375.3 775,373.2 779,370.8 783,367.3 787,363.8 791,357.9 795,353.2 799,349.0 803,347.4 807,345.8 811,343.8 815,341.3 819,340.3 823,341.3 827,343.6 831,346.1 835,349.0 839,350.1 843,350.5 847,349.7 851,346.3 855,343.1 859,339.1 863,336.6 867,334.3 871,333.3 875,335.2 879,338.2 883,341.6 887,346.6 891,351.1 895,355.4 899,359.4 903,365.0 907,371.0 911,379.0 915,384.7 919,390.4 923,394.1 927,396.9 931,400.1 935,403.4 939,405.3 943,405.3 947,403.6 951,401.8 955,399.6 959,398.5 963,397.9 967,397.5 971,399.0 975,399.9 979,402.1 983,403.7 987,406.3 991,408.3 995,409.1 999,408.0 1003,407.6 1007,407.4 1011,407.6 1015,408.1 1019,410.2 1023,412.2 1027,414.0 1031,414.0 1035,414.5 1039,413.5 1043,411.8 1047,411.7 1051,411.2 1055,410.8 1059,409.0 1063,406.9 1067,402.9 1071,398.1 1075,393.4 1079,388.8 1083,383.7 1087,377.7 1091,371.7 1095,367.1 1099,362.2 1103,356.4 1107,348.6 1111,340.1 1115,331.3 1119,325.4 1123,319.4 1127,312.4 1131,306.4 1135,300.4 1139,294.0 1143,288.3 1147,282.5 1151,276.9 1155,270.9 1159,266.5 1163,262.3 1167,257.4 1171,252.3 1175,247.0 1179,242.8 1183,238.3 1187,235.7 1191,233.7 1195,231.5 1199,228.7 1203,226.7 1207,225.4 1211,225.7 1215,225.4 1219,225.2 1223,224.1 1227,223.2 1231,222.5 1235,221.7 1239,218.8 1243,215.6 1247,212.9 1251,209.2 1255,203.5 1259,197.2 1263,190.3 1267,183.3" fill="none" stroke="#0000cd" stroke-width="1" />
<polyline points="3,243.1 7,244.8 11,246.4 15,250.0 19,253.9 23,257.8 27,261.9 31,266.8 35,273.5 39,277.9 43,281.8 47,282.8 51,283.0 55,282.2 59,280.4 63,277.6 67,276.0 71,272.9 75,271.1 79,271.1 83,272.6 87,273.9 91,272.6 95,273.1 99,273.9 103,277.1 107,280.6 111,283.6 115,286.1 119,289.9 123,293.4 127,297.6 131,301.8 135,306.9 139,311.2 143,315.2 147,319.6 151,321.9 155,323.5 159,325.4 163,327.4 167,330.4 171,333.2 175,336.9 179,337.5 183,337.8 187,337.5 191,336.9 195,333.9 199,331.6 203,328.8 207,329.3 211,330.1 215,331.9 219,332.2 223,335.9 227,339.4 231,341.2 235,345.9 239,351.6 243,356.0 247,357.8 251,360.2 255,362.4 259,364.6 263,365.4 267,367.7 271,368.1 275,368.0 279,365.0 283,361.4 287,358.8 291,355.4 295,349.6 299,343.1 303,336.4 307,330.7 311,325.1 315,319.9 319,315.6 323,310.5 327,306.8 331,304.8 335,302.9 339,300.5 343,297.2 347,293.4 351,290.4 355,289.3 359,289.3 363,292.4 367,294.6 371,298.0 375,301.2 379,303.9 383,305.7 387,307.9 391,310.8 395,314.6 399,316.9 403,320.1 407,323.0 411,325.9 415,329.0 419,328.7 423,330.2 427,330.6 431,330.9 435,331.2 439,332.4 443,332.6 447,331.9 451,331.4 455,330.8 459,329.9 463,329.7 467,328.9 471,329.2 475,329.9 479,328.7 483,326.5 487,324.1 491,320.5 495,316.1 499,312.3 503,308.6 507,303.9 511,301.9 515,300.9 519,301.0 523,301.9 527,300.7 531,299.4 535,298.9 539,298.7 543,296.0 547,293.8 551,291.6 555,288.1 559,285.6 563,284.0 567,283.1 571,281.3 575,277.8 579,275.4 583,274.1 587,273.8 591,272.7 595,271.8 599,272.7 603,274.9 607,276.4 611,279.3 615,283.4 619,287.2 623,289.9 627,292.1 631,295.9 635,299.2 639,302.6 643,305.1 647,308.6 651,312.8 655,317.3 659,320.1 663,322.4 667,324.0 671,325.6 675,327.4 679,329.9 683,334.0 687,337.6 691,340.9 695,344.3 699,348.1 703,352.1 707,357.0 711,362.1 715,368.7 719,377.1 723,386.0 727,394.5 731,402.3 735,407.4 739,411.4 743,414.9 747,417.5 751,419.3 755,416.9 759,413.8 763,407.7 767,398.2 771,386.9 775,376.6 779,364.5 783,347.1 787,330.0 791,311.2 795,295.1 799,281.0 803,273.9 807,267.4 811,264.4 815,261.2 819,263.1 823,273.1 827,288.9 831,304.2 835,321.9 839,340.1 843,357.5 847,376.9 851,387.4 855,394.9 859,393.6 863,395.3 867,397.3 871,402.3 875,406.0 879,407.1 883,403.4 887,399.2 891,391.6 895,388.1 899,383.6 903,379.8 907,382.9 911,388.1 915,393.0 919,396.3 923,402.0 927,403.6 931,403.4 935,400.9 939,399.6 943,398.9 947,401.3 951,403.6 955,408.1 959,412.0 963,415.1 967,416.7 971,417.9 975,415.1 979,410.7 983,409.8 987,410.6 991,412.9 995,414.1 999,413.0 1003,412.1 1007,411.4 1011,408.8 1015,408.7 1019,409.9 1023,411.2 1027,415.2 1031,418.4 1035,419.6 1039,417.3 1043,413.8 1047,410.8 1051,407.9 1055,406.9 1059,402.6 1063,397.6 1067,391.1 1071,382.0 1075,372.1 1079,361.9 1083,350.2 1087,338.9 1091,326.1 1095,315.8 1099,304.4 1103,291.3 1107,276.5 1111,261.3 1115,247.7 1119,238.4 1123,233.1 1127,227.7 1131,222.5 1135,219.3 1139,217.7 1143,219.6 1147,224.1 1151,225.1 1155,224.0 1159,224.7 1163,229.0 1167,233.6 1171,238.6 1175,239.0 1179,238.6 1183,239.0 1187,239.6 1191,238.9 1195,238.1 1199,234.2 1203,230.6 1207,228.5 1211,229.1 1215,227.6 1219,224.9 1223,219.9 1227,214.1 1231,208.8 1235,202.4 1239,196.4 1243,189.9 1247,183.2 1251,174.6 1255,165.4 1259,154.6 1263,144.4 1267,133.3" fill="none" stroke="#ff0000" stroke-width="1" />
<polyline points="3,254.9 7,263.0 11,269.6 15,277.2 19,285.0 23,285.6 27,284.6 31,287.2 35,292.8 39,294.2 43,297.2 47,293.0 51,286.8 55,270.4 59,261.8 63,251.4 67,250.6 71,249.0 75,254.0 79,259.6 83,270.6 87,281.4 91,292.0 95,299.8 99,305.2 103,305.4 107,305.6 111,301.0 115,298.2 119,296.0 123,296.4 127,296.6 131,305.0 135,317.8 139,330.4 143,342.4 147,353.4 151,356.2 155,351.6 159,345.2 163,339.8 167,331.2 171,329.8 175,333.4 179,330.2 183,325.6 187,325.0 191,328.2 195,322.2 199,325.8 203,328.2 207,333.2 211,332.4 215,339.4 219,341.6 223,351.0 227,358.0 231,364.6 235,369.6 239,379.8 243,381.4 247,379.8 251,375.4 255,372.0 259,364.8 263,359.6 267,360.2 271,361.4 275,357.2 279,352.0 283,346.8 287,339.6 291,334.0 295,328.4 299,320.0 303,309.6 307,296.8 311,287.2 315,281.6 319,282.8 323,287.8 327,294.4 331,300.4 335,304.4 339,304.4 343,302.4 347,296.4 351,288.0 355,281.8 359,278.2 363,283.4 367,290.6 371,303.0 375,316.2 379,328.8 383,331.6 387,337.8 391,340.2 395,341.8 399,338.8 403,336.8 407,330.2 411,324.2 415,318.6 419,316.4 423,318.8 427,324.2 431,330.2 435,335.0 439,341.8 443,344.4 447,344.0 451,343.2 455,337.6 459,330.0 463,322.2 467,315.8 471,312.4 475,314.0 479,315.4 483,315.2 487,316.6 491,310.6 495,303.0 499,298.4 503,293.8 507,286.8 511,285.4 515,287.4 519,290.6 523,297.2 527,303.4 531,307.2 535,310.0 539,308.8 543,300.0 547,291.2 551,281.2 555,268.2 559,257.2 563,253.2 567,255.4 571,258.4 575,261.6 579,268.4 583,275.8 587,281.2 591,286.0 595,292.0 599,292.6 603,293.2 607,288.6 611,286.6 615,289.6 619,293.8 623,297.4 627,302.2 631,308.2 635,312.8 639,319.0 643,323.8 647,332.2 651,339.2 655,343.2 659,342.0 663,337.2 667,329.8 671,325.6 675,322.2 679,324.8 683,334.6 687,346.4 691,355.6 695,366.2 699,375.0 703,382.8 707,393.4 711,402.6 715,410.4 719,418.2 723,424.8 727,430.6 731,434.6 735,433.2 739,430.6 743,427.4 747,420.0 751,413.8 755,401.6 759,389.6 763,373.2 767,348.6 771,319.8 775,305.4 779,286.8 783,261.0 787,243.6 791,221.2 795,202.4 799,193.6 803,215.0 807,238.4 811,270.6 815,294.6 819,323.2 823,346.2 827,380.2 831,416.8 835,456.6 839,476.6 843,480.0 847,467.6 851,435.4 855,398.0 859,364.6 863,344.2 867,327.6 871,336.2 875,354.4 879,384.2 883,403.0 887,422.2 891,426.6 895,426.4 899,414.0 903,401.4 907,389.8 911,388.2 915,378.4 919,379.8 923,389.8 927,394.2 931,397.4 935,406.4 939,412.4 943,413.4 947,420.0 951,426.8 955,434.0 959,436.0 963,435.4 967,431.4 971,418.6 975,399.6 979,386.2 983,379.2 987,380.4 991,392.4 995,409.6 999,419.8 1003,426.4 1007,428.8 1011,422.4 1015,420.8 1019,426.8 1023,429.0 1027,429.4 1031,426.6 1035,416.8 1039,399.8 1043,387.6 1047,380.0 1051,380.2 1055,384.2 1059,385.4 1063,383.6 1067,367.4 1071,348.2 1075,329.2 1079,315.0 1083,296.6 1087,280.2 1091,260.2 1095,242.2 1099,226.6 1103,215.0 1107,205.6 1111,202.8 1115,194.8 1119,198.6 1123,204.4 1127,211.6 1131,220.6 1135,235.4 1139,238.8 1143,242.4 1147,250.2 1151,249.4 1155,239.8 1159,234.6 1163,232.0 1167,229.4 1171,232.8 1175,240.6 1179,243.4 1183,239.6 1187,237.4 1191,236.2 1195,236.4 1199,230.0 1203,226.6 1207,218.2 1211,212.4 1215,205.2 1219,206.0 1223,199.6 1227,192.6 1231,183.6 1235,172.6 1239,159.8 1243,153.4 1247,149.6 1251,140.8 1255,126.6 1259,109.4 1263,90.6 1267,72.7" fill="none" stroke="#ffa500" stroke-width="1" />
<rect x="3" y="68" width="1592" height="2" fill="#ff0000"/>
<rect x="3" y="115" width="1592" height="2" fill="#00ff00"/>
<rect x="2" y="113" width="6" height="6" fill="#00ff00"/>
<rect x="4" y="115" width="2" height="2" fill="#fff"/>
<rect x="1589" y="113" width="6" height="6" fill="#00ff00"/>
<rect x="1591" y="115" width="2" height="2" fill="#fff"/>
<rect x="3" y="160" width="1592" height="2" fill="#0000ff"/>
<rect x="2" y="158" width="6" height="6" fill="#0000ff"/>
<rect x="4" y="160" width="2" height="2" fill="#fff"/>
<rect x="1589" y="158" width="6" height="6" fill="#0000ff"/>
<rect x="1591" y="160" width="2" height="2" fill="#fff"/>
<rect x="3" y="207" width="1592" height="2" fill="#0000ff"/>
<rect x="2" y="205" width="6" height="6" fill="#0000ff"/>
<rect x="4" y="207" width="2" height="2" fill="#fff"/>
<rect x="1589" y="205" width="6" height="6" fill="#0000ff"/>
<rect x="1591" y="207" width="2" height="2" fill="#fff"/>
<rect x="3" y="254" width="1592" height="2" fill="#0000ff"/>
<rect x="2" y="252" width="6" height="6" fill="#0000ff"/>
<rect x="4" y="254" width="2" height="2" fill="#fff"/>
<rect x="1589" y="252" width="6" height="6" fill="#0000ff"/>
<rect x="1591" y="254" width="2" height="2" fill="#fff"/>
<rect x="3" y="301" width="1592" height="2" fill="#0000ff"/>
<rect x="2" y="299" width="6" height="6" fill="#0000ff"/>
<rect x="4" y="301" width="2" height="2" fill="#fff"/>
<rect x="1589" y="299" width="6" height="6" fill="#0000ff"/>
<rect x="1591" y="301" width="2" height="2" fill="#fff"/>
<rect x="3" y="347" width="1592" height="2" fill="#0000ff"/>
<rect x="2" y="345" width="6" height="6" fill="#0000ff"/>
<rect x="4" y="347" width="2" height="2" fill="#fff"/>
<rect x="1589" y="345" width="6" height="6" fill="#0000ff"/>
<rect x="1591" y="347" width="2" height="2" fill="#fff"/>
</svg>
<rect x="2" y="113" width="6" height="6" fill="#00ff00"/>
<rect x="4" y="115" width="2" height="2" fill="#fff"/>
<rect x="2" y="158" width="6" height="6" fill="#0000ff"/>
<rect x="4" y="160" width="2" height="2" fill="#fff"/>
<rect x="2" y="205" width="6" height="6" fill="#0000ff"/>
<rect x="4" y="207" width="2" height="2" fill="#fff"/>
<rect x="2" y="252" width="6" height="6" fill="#0000ff"/>
<rect x="4" y="254" width="2" height="2" fill="#fff"/>
<rect x="2" y="299" width="6" height="6" fill="#0000ff"/>
<rect x="4" y="301" width="2" height="2" fill="#fff"/>
<rect x="2" y="345" width="6" height="6" fill="#0000ff"/>
<rect x="4" y="347" width="2" height="2" fill="#fff"/>
<rect x="1589" y="113" width="6" height="6" fill="#00ff00"/>
<rect x="1591" y="115" width="2" height="2" fill="#fff"/>
<rect x="1589" y="158" width="6" height="6" fill="#0000ff"/>
<rect x="1591" y="160" width="2" height="2" fill="#fff"/>
<rect x="1589" y="205" width="6" height="6" fill="#0000ff"/>
<rect x="1591" y="207" width="2" height="2" fill="#fff"/>
<rect x="1589" y="252" width="6" height="6" fill="#0000ff"/>
<rect x="1591" y="254" width="2" height="2" fill="#fff"/>
<rect x="1589" y="299" width="6" height="6" fill="#0000ff"/>
<rect x="1591" y="301" width="2" height="2" fill="#fff"/>
<rect x="1589" y="345" width="6" height="6" fill="#0000ff"/>
<rect x="1591" y="347" width="2" height="2" fill="#fff"/>
<rect x="1596" y="31" width="2" height="1" fill="#000"/>
<text x="1600.70" y="35" fill="#000" font-size="10" textLength="33.26" lengthAdjust="spacingAndGlyphs">1.16840</text>
<rect x="1596" y="64" width="2" height="1" fill="#000"/>
<text x="1600.70" y="68" fill="#000" font-size="10" textLength="33.26" lengthAdjust="spacingAndGlyphs">1.16130</text>
<rect x="1596" y="97" width="2" height="1" fill="#000"/>
<text x="1600.70" y="101" fill="#000" font-size="10" textLength="33.26" lengthAdjust="spacingAndGlyphs">1.15420</text>
<rect x="1596" y="131" width="2" height="1" fill="#000"/>
<text x="1600.70" y="135" fill="#000" font-size="10" textLength="33.26" lengthAdjust="spacingAndGlyphs">1.14700</text>
<rect x="1596" y="164" width="2" height="1" fill="#000"/>
<text x="1600.70" y="168" fill="#000" font-size="10" textLength="33.26" lengthAdjust="spacingAndGlyphs">1.13990</text>
<rect x="1596" y="197" width="2" height="1" fill="#000"/>
<text x="1600.70" y="201" fill="#000" font-size="10" textLength="33.26" lengthAdjust="spacingAndGlyphs">1.13280</text>
<rect x="1596" y="229" width="2" height="1" fill="#000"/>
<text x="1600.70" y="233" fill="#000" font-size="10" textLength="33.26" lengthAdjust="spacingAndGlyphs">1.12580</text>
<rect x="1596" y="263" width="2" height="1" fill="#000"/>
<text x="1600.70" y="267" fill="#000" font-size="10" textLength="33.26" lengthAdjust="spacingAndGlyphs">1.11860</text>
<rect x="1596" y="295" width="2" height="1" fill="#000"/>
<text x="1600.70" y="299" fill="#000" font-size="10" textLength="33.26" lengthAdjust="spacingAndGlyphs">1.11160</text>
<rect x="1596" y="328" width="2" height="1" fill="#000"/>
<text x="1600.70" y="332" fill="#000" font-size="10" textLength="33.26" lengthAdjust="spacingAndGlyphs">1.10440</text>
<rect x="1596" y="362" width="2" height="1" fill="#000"/>
<text x="1600.70" y="366" fill="#000" font-size="10" textLength="33.26" lengthAdjust="spacingAndGlyphs">1.09720</text>
<rect x="1596" y="394" width="2" height="1" fill="#000"/>
<text x="1600.70" y="398" fill="#000" font-size="10" textLength="33.26" lengthAdjust="spacingAndGlyphs">1.09020</text>
<rect x="1596" y="428" width="2" height="1" fill="#000"/>
<text x="1600.70" y="432" fill="#000" font-size="10" textLength="33.26" lengthAdjust="spacingAndGlyphs">1.08300</text>
<rect x="1596" y="460" width="2" height="1" fill="#000"/>
<text x="1600.70" y="464" fill="#000" font-size="10" textLength="33.26" lengthAdjust="spacingAndGlyphs">1.07600</text>
<rect x="1596" y="494" width="2" height="1" fill="#000"/>
<text x="1600.70" y="498" fill="#000" font-size="10" textLength="33.26" lengthAdjust="spacingAndGlyphs">1.06880</text>
<rect x="1596" y="526" width="2" height="1" fill="#000"/>
<text x="1600.70" y="530" fill="#000" font-size="10" textLength="33.26" lengthAdjust="spacingAndGlyphs">1.06180</text>
<rect x="1597" y="48" width="41" height="11" fill="#000"/>
<text x="1600.70" y="58" fill="#fff" font-size="10" textLength="33.35" lengthAdjust="spacingAndGlyphs">1.16361</text>
<rect x="1597" y="63" width="41" height="11" fill="#ff0000"/>
<text x="1600.70" y="73" fill="#fff" font-size="10" textLength="33.30" lengthAdjust="spacingAndGlyphs">1.16018</text>
<rect x="1597" y="110" width="41" height="11" fill="#00ff00"/>
<text x="1600.70" y="120" fill="#fff" font-size="10" textLength="33.29" lengthAdjust="spacingAndGlyphs">1.15015</text>
<rect x="1597" y="155" width="41" height="11" fill="#0000ff"/>
<text x="1600.70" y="165" fill="#fff" font-size="10" textLength="33.37" lengthAdjust="spacingAndGlyphs">1.14047</text>
<rect x="1597" y="202" width="41" height="11" fill="#0000ff"/>
<text x="1600.70" y="212" fill="#fff" font-size="10" textLength="33.17" lengthAdjust="spacingAndGlyphs">1.13034</text>
<rect x="1597" y="249" width="41" height="11" fill="#0000ff"/>
<text x="1600.70" y="259" fill="#fff" font-size="10" textLength="33.17" lengthAdjust="spacingAndGlyphs">1.12004</text>
<rect x="1597" y="296" width="41" height="11" fill="#0000ff"/>
<text x="1600.70" y="306" fill="#fff" font-size="10" textLength="33.34" lengthAdjust="spacingAndGlyphs">1.11009</text>
<rect x="1597" y="342" width="41" height="11" fill="#0000ff"/>
<text x="1600.70" y="352" fill="#fff" font-size="10" textLength="33.30" lengthAdjust="spacingAndGlyphs">1.10008</text>
<path d="M6,30 L13,30 L9.5,34 Z" fill="#000"/>
<text x="17.51" y="35" fill="#000" font-size="10" textLength="64.51" lengthAdjust="spacingAndGlyphs">EURUSD,Daily</text>
<text x="87.90" y="35" fill="#000" font-size="10" textLength="141.15" lengthAdjust="spacingAndGlyphs">1.16334 1.16468 1.16280 1.16361</text>
<svg x="3" y="532" width="1592" height="91" viewBox="3 532 1592 91" overflow="hidden">
<line x1="4" y1="559.5" x2="1595" y2="559.5" stroke="#c0c0c0" stroke-dasharray="3,3"/>
<line x1="4" y1="595.5" x2="1595" y2="595.5" stroke="#c0c0c0" stroke-dasharray="3,3"/>
<polyline points="3,594.5 7,595.5 11,591.5 15,595.5 19,593.5 23,590.5 27,588.5 31,591.5 35,598.5 39,587.5 43,588.5 47,575.5 51,576.5 55,571.5 59,575.5 63,573.5 67,575.5 71,574.5 75,579.5 79,583.5 83,587.5 87,589.5 91,587.5 95,587.5 99,588.5 103,586.5 107,588.5 111,577.5 115,580.5 119,582.5 123,584.5 127,586.5 131,589.5 135,595.5 139,596.5 143,597.5 147,597.5 151,586.5 155,583.5 159,583.5 163,585.5 167,580.5 171,582.5 175,587.5 179,576.5 183,576.5 187,578.5 191,584.5 195,577.5 199,580.5 203,578.5 207,583.5 211,582.5 215,585.5 219,581.5 223,588.5 227,589.5 231,588.5 235,588.5 239,591.5 243,587.5 247,584.5 251,578.5 255,581.5 259,579.5 263,579.5 267,584.5 271,579.5 275,574.5 279,571.5 283,571.5 287,574.5 291,572.5 295,567.5 299,563.5 303,560.5 307,560.5 311,563.5 315,564.5 319,568.5 323,571.5 327,572.5 331,575.5 335,572.5 339,569.5 343,568.5 347,564.5 351,563.5 355,564.5 359,566.5 363,581.5 367,579.5 371,585.5 375,586.5 379,586.5 383,583.5 387,587.5 391,587.5 395,588.5 399,579.5 403,577.5 407,574.5 411,575.5 415,577.5 419,575.5 423,582.5 427,583.5 431,585.5 435,585.5 439,586.5 443,586.5 447,580.5 451,582.5 455,572.5 459,570.5 463,569.5 467,568.5 471,577.5 475,577.5 479,574.5 483,570.5 487,572.5 491,567.5 495,564.5 499,568.5 503,565.5 507,563.5 511,568.5 515,572.5 519,578.5 523,580.5 527,576.5 531,576.5 535,578.5 539,575.5 543,565.5 547,563.5 551,561.5 555,559.5 559,561.5 563,563.5 567,572.5 571,571.5 575,568.5 579,576.5 583,579.5 587,582.5 591,580.5 595,578.5 599,577.5 603,579.5 607,574.5 611,576.5 615,583.5 619,583.5 623,585.5 627,581.5 631,585.5 635,589.5 639,591.5 643,590.5 647,592.5 651,593.5 655,593.5 659,585.5 663,577.5 667,575.5 671,582.5 675,583.5 679,587.5 683,590.5 687,592.5 691,594.5 695,596.5 699,597.5 703,598.5 707,602.5 711,602.5 715,603.5 719,603.5 723,604.5 727,606.5 731,602.5 735,590.5 739,589.5 743,589.5 747,587.5 751,586.5 755,568.5 759,568.5 763,563.5 767,555.5 771,553.5 775,559.5 779,556.5 783,551.5 787,550.5 791,547.5 795,557.5 799,563.5 803,578.5 807,579.5 811,578.5 815,578.5 819,584.5 823,591.5 827,596.5 831,596.5 835,597.5 839,589.5 843,587.5 847,584.5 851,573.5 855,572.5 859,569.5 863,575.5 867,575.5 871,579.5 875,583.5 879,586.5 883,585.5 887,585.5 891,580.5 895,581.5 899,577.5 903,576.5 907,577.5 911,579.5 915,574.5 919,578.5 923,582.5 927,579.5 931,580.5 935,580.5 939,581.5 943,583.5 947,584.5 951,585.5 955,585.5 959,582.5 963,581.5 967,579.5 971,572.5 975,567.5 979,570.5 983,576.5 987,581.5 991,584.5 995,583.5 999,578.5 1003,580.5 1007,582.5 1011,577.5 1015,580.5 1019,583.5 1023,581.5 1027,581.5 1031,573.5 1035,571.5 1039,567.5 1043,571.5 1047,576.5 1051,575.5 1055,576.5 1059,570.5 1063,570.5 1067,563.5 1071,561.5 1075,562.5 1079,561.5 1083,558.5 1087,554.5 1091,552.5 1095,555.5 1099,555.5 1103,555.5 1107,553.5 1111,553.5 1115,552.5 1119,567.5 1123,569.5 1127,567.5 1131,568.5 1135,572.5 1139,572.5 1143,575.5 1147,575.5 1151,568.5 1155,564.5 1159,570.5 1163,575.5 1167,575.5 1171,574.5 1175,573.5 1179,573.5 1183,571.5 1187,574.5 1191,573.5 1195,574.5 1199,567.5 1203,568.5 1207,566.5 1211,569.5 1215,568.5 1219,570.5 1223,564.5 1227,561.5 1231,561.5 1235,559.5 1239,559.5 1243,559.5 1247,559.5 1251,555.5 1255,550.5 1259,548.5 1263,548.5 1267,548.5" fill="none" stroke="#1e90ff" stroke-width="1" />
</svg>
<text x="6.23" y="544" fill="#000" font-size="10" textLength="68.78" lengthAdjust="spacingAndGlyphs">RSI(14) 82.8933</text>
<text x="1598.80" y="542" fill="#000" font-size="10" textLength="15.25" lengthAdjust="spacingAndGlyphs">100</text>
<text x="1597.82" y="563" fill="#000" font-size="10" textLength="10.45" lengthAdjust="spacingAndGlyphs">70</text>
<text x="1597.53" y="599" fill="#000" font-size="10" textLength="10.75" lengthAdjust="spacingAndGlyphs">30</text>
<text x="1598.81" y="620" fill="#000" font-size="10" textLength="5.58" lengthAdjust="spacingAndGlyphs">0</text>
<rect x="1596" y="532" width="2" height="1" fill="#000"/>
<rect x="1596" y="560" width="2" height="1" fill="#000"/>
<rect x="1596" y="596" width="2" height="1" fill="#000"/>
<rect x="1596" y="622" width="2" height="1" fill="#000"/>
<svg x="3" y="626" width="1592" height="91" viewBox="3 626 1592 91" overflow="hidden">
<rect x="3" y="680" width="1" height="10" fill="#c0c0c0"/>
<rect x="7" y="680" width="1" height="12" fill="#c0c0c0"/>
<rect x="11" y="680" width="1" height="13" fill="#c0c0c0"/>
<rect x="15" y="680" width="1" height="15" fill="#c0c0c0"/>
<rect x="19" y="680" width="1" height="16" fill="#c0c0c0"/>
<rect x="23" y="680" width="1" height="16" fill="#c0c0c0"/>
<rect x="27" y="680" width="1" height="16" fill="#c0c0c0"/>
<rect x="31" y="680" width="1" height="16" fill="#c0c0c0"/>
<rect x="35" y="680" width="1" height="18" fill="#c0c0c0"/>
<rect x="39" y="680" width="1" height="18" fill="#c0c0c0"/>
<rect x="43" y="680" width="1" height="18" fill="#c0c0c0"/>
<rect x="47" y="680" width="1" height="15" fill="#c0c0c0"/>
<rect x="51" y="680" width="1" height="12" fill="#c0c0c0"/>
<rect x="55" y="680" width="1" height="9" fill="#c0c0c0"/>
<rect x="59" y="680" width="1" height="7" fill="#c0c0c0"/>
<rect x="63" y="680" width="1" height="5" fill="#c0c0c0"/>
<rect x="67" y="680" width="1" height="4" fill="#c0c0c0"/>
<rect x="71" y="680" width="1" height="3" fill="#c0c0c0"/>
<rect x="75" y="680" width="1" height="3" fill="#c0c0c0"/>
<rect x="79" y="680" width="1" height="4" fill="#c0c0c0"/>
<rect x="83" y="680" width="1" height="6" fill="#c0c0c0"/>
<rect x="87" y="680" width="1" height="9" fill="#c0c0c0"/>
<rect x="91" y="680" width="1" height="10" fill="#c0c0c0"/>
<rect x="95" y="680" width="1" height="11" fill="#c0c0c0"/>
<rect x="99" y="680" width="1" height="12" fill="#c0c0c0"/>
<rect x="103" y="680" width="1" height="12" fill="#c0c0c0"/>
<rect x="107" y="680" width="1" height="13" fill="#c0c0c0"/>
<rect x="111" y="680" width="1" height="11" fill="#c0c0c0"/>
<rect x="115" y="680" width="1" height="10" fill="#c0c0c0"/>
<rect x="119" y="680" width="1" height="10" fill="#c0c0c0"/>
<rect x="123" y="680" width="1" height="10" fill="#c0c0c0"/>
<rect x="127" y="680" width="1" height="11" fill="#c0c0c0"/>
<rect x="131" y="680" width="1" height="12" fill="#c0c0c0"/>
<rect x="135" y="680" width="1" height="15" fill="#c0c0c0"/>
<rect x="139" y="680" width="1" height="17" fill="#c0c0c0"/>
<rect x="143" y="680" width="1" height="19" fill="#c0c0c0"/>
<rect x="147" y="680" width="1" height="21" fill="#c0c0c0"/>
<rect x="151" y="680" width="1" height="20" fill="#c0c0c0"/>
<rect x="155" y="680" width="1" height="18" fill="#c0c0c0"/>
<rect x="159" y="680" width="1" height="17" fill="#c0c0c0"/>
<rect x="163" y="680" width="1" height="16" fill="#c0c0c0"/>
<rect x="167" y="680" width="1" height="14" fill="#c0c0c0"/>
<rect x="171" y="680" width="1" height="13" fill="#c0c0c0"/>
<rect x="175" y="680" width="1" height="14" fill="#c0c0c0"/>
<rect x="179" y="680" width="1" height="11" fill="#c0c0c0"/>
<rect x="183" y="680" width="1" height="10" fill="#c0c0c0"/>
<rect x="187" y="680" width="1" height="8" fill="#c0c0c0"/>
<rect x="191" y="680" width="1" height="9" fill="#c0c0c0"/>
<rect x="195" y="680" width="1" height="8" fill="#c0c0c0"/>
<rect x="199" y="680" width="1" height="8" fill="#c0c0c0"/>
<rect x="203" y="680" width="1" height="7" fill="#c0c0c0"/>
<rect x="207" y="680" width="1" height="8" fill="#c0c0c0"/>
<rect x="211" y="680" width="1" height="8" fill="#c0c0c0"/>
<rect x="215" y="680" width="1" height="9" fill="#c0c0c0"/>
<rect x="219" y="680" width="1" height="9" fill="#c0c0c0"/>
<rect x="223" y="680" width="1" height="11" fill="#c0c0c0"/>
<rect x="227" y="680" width="1" height="13" fill="#c0c0c0"/>
<rect x="231" y="680" width="1" height="14" fill="#c0c0c0"/>
<rect x="235" y="680" width="1" height="15" fill="#c0c0c0"/>
<rect x="239" y="680" width="1" height="16" fill="#c0c0c0"/>
<rect x="243" y="680" width="1" height="16" fill="#c0c0c0"/>
<rect x="247" y="680" width="1" height="16" fill="#c0c0c0"/>
<rect x="251" y="680" width="1" height="14" fill="#c0c0c0"/>
<rect x="255" y="680" width="1" height="13" fill="#c0c0c0"/>
<rect x="259" y="680" width="1" height="11" fill="#c0c0c0"/>
<rect x="263" y="680" width="1" height="10" fill="#c0c0c0"/>
<rect x="267" y="680" width="1" height="10" fill="#c0c0c0"/>
<rect x="271" y="680" width="1" height="9" fill="#c0c0c0"/>
<rect x="275" y="680" width="1" height="7" fill="#c0c0c0"/>
<rect x="279" y="680" width="1" height="5" fill="#c0c0c0"/>
<rect x="283" y="680" width="1" height="3" fill="#c0c0c0"/>
<rect x="287" y="680" width="1" height="2" fill="#c0c0c0"/>
<rect x="291" y="679" width="1" height="2" fill="#c0c0c0"/>
<rect x="295" y="677" width="1" height="4" fill="#c0c0c0"/>
<rect x="299" y="674" width="1" height="7" fill="#c0c0c0"/>
<rect x="303" y="670" width="1" height="11" fill="#c0c0c0"/>
<rect x="307" y="668" width="1" height="13" fill="#c0c0c0"/>
<rect x="311" y="666" width="1" height="15" fill="#c0c0c0"/>
<rect x="315" y="665" width="1" height="16" fill="#c0c0c0"/>
<rect x="319" y="666" width="1" height="15" fill="#c0c0c0"/>
<rect x="323" y="667" width="1" height="14" fill="#c0c0c0"/>
<rect x="327" y="668" width="1" height="13" fill="#c0c0c0"/>
<rect x="331" y="669" width="1" height="12" fill="#c0c0c0"/>
<rect x="335" y="670" width="1" height="11" fill="#c0c0c0"/>
<rect x="339" y="670" width="1" height="11" fill="#c0c0c0"/>
<rect x="343" y="670" width="1" height="11" fill="#c0c0c0"/>
<rect x="347" y="669" width="1" height="12" fill="#c0c0c0"/>
<rect x="351" y="668" width="1" height="13" fill="#c0c0c0"/>
<rect x="355" y="667" width="1" height="14" fill="#c0c0c0"/>
<rect x="359" y="667" width="1" height="14" fill="#c0c0c0"/>
<rect x="363" y="670" width="1" height="11" fill="#c0c0c0"/>
<rect x="367" y="672" width="1" height="9" fill="#c0c0c0"/>
<rect x="371" y="675" width="1" height="6" fill="#c0c0c0"/>
<rect x="375" y="678" width="1" height="3" fill="#c0c0c0"/>
<rect x="379" y="680" width="1" height="2" fill="#c0c0c0"/>
<rect x="383" y="680" width="1" height="3" fill="#c0c0c0"/>
<rect x="387" y="680" width="1" height="5" fill="#c0c0c0"/>
<rect x="391" y="680" width="1" height="6" fill="#c0c0c0"/>
<rect x="395" y="680" width="1" height="8" fill="#c0c0c0"/>
<rect x="399" y="680" width="1" height="7" fill="#c0c0c0"/>
<rect x="403" y="680" width="1" height="6" fill="#c0c0c0"/>
<rect x="407" y="680" width="1" height="5" fill="#c0c0c0"/>
<rect x="411" y="680" width="1" height="4" fill="#c0c0c0"/>
<rect x="415" y="680" width="1" height="3" fill="#c0c0c0"/>
<rect x="419" y="680" width="1" height="3" fill="#c0c0c0"/>
<rect x="423" y="680" width="1" height="3" fill="#c0c0c0"/>
<rect x="427" y="680" width="1" height="4" fill="#c0c0c0"/>
<rect x="431" y="680" width="1" height="5" fill="#c0c0c0"/>
<rect x="435" y="680" width="1" height="6" fill="#c0c0c0"/>
<rect x="439" y="680" width="1" height="7" fill="#c0c0c0"/>
<rect x="443" y="680" width="1" height="8" fill="#c0c0c0"/>
<rect x="447" y="680" width="1" height="7" fill="#c0c0c0"/>
<rect x="451" y="680" width="1" height="7" fill="#c0c0c0"/>
<rect x="455" y="680" width="1" height="5" fill="#c0c0c0"/>
<rect x="459" y="680" width="1" height="3" fill="#c0c0c0"/>
<rect x="463" y="680" width="1" height="2" fill="#c0c0c0"/>
<rect x="467" y="679" width="1" height="2" fill="#c0c0c0"/>
<rect x="471" y="679" width="1" height="2" fill="#c0c0c0"/>
<rect x="475" y="679" width="1" height="2" fill="#c0c0c0"/>
<rect x="479" y="679" width="1" height="2" fill="#c0c0c0"/>
<rect x="483" y="678" width="1" height="3" fill="#c0c0c0"/>
<rect x="487" y="678" width="1" height="3" fill="#c0c0c0"/>
<rect x="491" y="676" width="1" height="5" fill="#c0c0c0"/>
<rect x="495" y="674" width="1" height="7" fill="#c0c0c0"/>
<rect x="499" y="674" width="1" height="7" fill="#c0c0c0"/>
<rect x="503" y="672" width="1" height="9" fill="#c0c0c0"/>
<rect x="507" y="671" width="1" height="10" fill="#c0c0c0"/>
<rect x="511" y="671" width="1" height="10" fill="#c0c0c0"/>
<rect x="515" y="671" width="1" height="10" fill="#c0c0c0"/>
<rect x="519" y="673" width="1" height="8" fill="#c0c0c0"/>
<rect x="523" y="675" width="1" height="6" fill="#c0c0c0"/>
<rect x="527" y="675" width="1" height="6" fill="#c0c0c0"/>
<rect x="531" y="676" width="1" height="5" fill="#c0c0c0"/>
<rect x="535" y="677" width="1" height="4" fill="#c0c0c0"/>
<rect x="539" y="677" width="1" height="4" fill="#c0c0c0"/>
<rect x="543" y="675" width="1" height="6" fill="#c0c0c0"/>
<rect x="547" y="673" width="1" height="8" fill="#c0c0c0"/>
<rect x="551" y="671" width="1" height="10" fill="#c0c0c0"/>
<rect x="555" y="669" width="1" height="12" fill="#c0c0c0"/>
<rect x="559" y="667" width="1" height="14" fill="#c0c0c0"/>
<rect x="563" y="666" width="1" height="15" fill="#c0c0c0"/>
<rect x="567" y="668" width="1" height="13" fill="#c0c0c0"/>
<rect x="571" y="668" width="1" height="13" fill="#c0c0c0"/>
<rect x="575" y="668" width="1" height="13" fill="#c0c0c0"/>
<rect x="579" y="670" width="1" height="11" fill="#c0c0c0"/>
<rect x="583" y="672" width="1" height="9" fill="#c0c0c0"/>
<rect x="587" y="674" width="1" height="7" fill="#c0c0c0"/>
<rect x="591" y="676" width="1" height="5" fill="#c0c0c0"/>
<rect x="595" y="677" width="1" height="4" fill="#c0c0c0"/>
<rect x="599" y="677" width="1" height="4" fill="#c0c0c0"/>
<rect x="603" y="678" width="1" height="3" fill="#c0c0c0"/>
<rect x="607" y="678" width="1" height="3" fill="#c0c0c0"/>
<rect x="611" y="678" width="1" height="3" fill="#c0c0c0"/>
<rect x="615" y="680" width="1" height="1" fill="#c0c0c0"/>
<rect x="619" y="680" width="1" height="2" fill="#c0c0c0"/>
<rect x="623" y="680" width="1" height="4" fill="#c0c0c0"/>
<rect x="627" y="680" width="1" height="4" fill="#c0c0c0"/>
<rect x="631" y="680" width="1" height="5" fill="#c0c0c0"/>
<rect x="635" y="680" width="1" height="7" fill="#c0c0c0"/>
<rect x="639" y="680" width="1" height="9" fill="#c0c0c0"/>
<rect x="643" y="680" width="1" height="10" fill="#c0c0c0"/>
<rect x="647" y="680" width="1" height="12" fill="#c0c0c0"/>
<rect x="651" y="680" width="1" height="13" fill="#c0c0c0"/>
<rect x="655" y="680" width="1" height="14" fill="#c0c0c0"/>
<rect x="659" y="680" width="1" height="14" fill="#c0c0c0"/>
<rect x="663" y="680" width="1" height="12" fill="#c0c0c0"/>
<rect x="667" y="680" width="1" height="10" fill="#c0c0c0"/>
<rect x="671" y="680" width="1" height="9" fill="#c0c0c0"/>
<rect x="675" y="680" width="1" height="9" fill="#c0c0c0"/>
<rect x="679" y="680" width="1" height="10" fill="#c0c0c0"/>
<rect x="683" y="680" width="1" height="12" fill="#c0c0c0"/>
<rect x="687" y="680" width="1" height="13" fill="#c0c0c0"/>
<rect x="691" y="680" width="1" height="15" fill="#c0c0c0"/>
<rect x="695" y="680" width="1" height="17" fill="#c0c0c0"/>
<rect x="699" y="680" width="1" height="18" fill="#c0c0c0"/>
<rect x="703" y="680" width="1" height="20" fill="#c0c0c0"/>
<rect x="707" y="680" width="1" height="23" fill="#c0c0c0"/>
<rect x="711" y="680" width="1" height="25" fill="#c0c0c0"/>
<rect x="715" y="680" width="1" height="26" fill="#c0c0c0"/>
<rect x="719" y="680" width="1" height="27" fill="#c0c0c0"/>
<rect x="723" y="680" width="1" height="28" fill="#c0c0c0"/>
<rect x="727" y="680" width="1" height="29" fill="#c0c0c0"/>
<rect x="731" y="680" width="1" height="30" fill="#c0c0c0"/>
<rect x="735" y="680" width="1" height="28" fill="#c0c0c0"/>
<rect x="739" y="680" width="1" height="26" fill="#c0c0c0"/>
<rect x="743" y="680" width="1" height="25" fill="#c0c0c0"/>
<rect x="747" y="680" width="1" height="23" fill="#c0c0c0"/>
<rect x="751" y="680" width="1" height="21" fill="#c0c0c0"/>
<rect x="755" y="680" width="1" height="16" fill="#c0c0c0"/>
<rect x="759" y="680" width="1" height="11" fill="#c0c0c0"/>
<rect x="763" y="680" width="1" height="6" fill="#c0c0c0"/>
<rect x="767" y="678" width="1" height="3" fill="#c0c0c0"/>
<rect x="771" y="671" width="1" height="10" fill="#c0c0c0"/>
<rect x="775" y="666" width="1" height="15" fill="#c0c0c0"/>
<rect x="779" y="662" width="1" height="19" fill="#c0c0c0"/>
<rect x="783" y="654" width="1" height="27" fill="#c0c0c0"/>
<rect x="787" y="649" width="1" height="32" fill="#c0c0c0"/>
<rect x="791" y="641" width="1" height="40" fill="#c0c0c0"/>
<rect x="795" y="638" width="1" height="43" fill="#c0c0c0"/>
<rect x="799" y="638" width="1" height="43" fill="#c0c0c0"/>
<rect x="803" y="645" width="1" height="36" fill="#c0c0c0"/>
<rect x="807" y="652" width="1" height="29" fill="#c0c0c0"/>
<rect x="811" y="657" width="1" height="24" fill="#c0c0c0"/>
<rect x="815" y="661" width="1" height="20" fill="#c0c0c0"/>
<rect x="819" y="668" width="1" height="13" fill="#c0c0c0"/>
<rect x="823" y="678" width="1" height="3" fill="#c0c0c0"/>
<rect x="827" y="680" width="1" height="11" fill="#c0c0c0"/>
<rect x="831" y="680" width="1" height="21" fill="#c0c0c0"/>
<rect x="835" y="680" width="1" height="30" fill="#c0c0c0"/>
<rect x="839" y="680" width="1" height="33" fill="#c0c0c0"/>
<rect x="843" y="680" width="1" height="33" fill="#c0c0c0"/>
<rect x="847" y="680" width="1" height="32" fill="#c0c0c0"/>
<rect x="851" y="680" width="1" height="25" fill="#c0c0c0"/>
<rect x="855" y="680" width="1" height="18" fill="#c0c0c0"/>
<rect x="859" y="680" width="1" height="10" fill="#c0c0c0"/>
<rect x="863" y="680" width="1" height="8" fill="#c0c0c0"/>
<rect x="867" y="680" width="1" height="5" fill="#c0c0c0"/>
<rect x="871" y="680" width="1" height="6" fill="#c0c0c0"/>
<rect x="875" y="680" width="1" height="9" fill="#c0c0c0"/>
<rect x="879" y="680" width="1" height="13" fill="#c0c0c0"/>
<rect x="883" y="680" width="1" height="16" fill="#c0c0c0"/>
<rect x="887" y="680" width="1" height="18" fill="#c0c0c0"/>
<rect x="891" y="680" width="1" height="17" fill="#c0c0c0"/>
<rect x="895" y="680" width="1" height="17" fill="#c0c0c0"/>
<rect x="899" y="680" width="1" height="14" fill="#c0c0c0"/>
<rect x="903" y="680" width="1" height="11" fill="#c0c0c0"/>
<rect x="907" y="680" width="1" height="10" fill="#c0c0c0"/>
<rect x="911" y="680" width="1" height="9" fill="#c0c0c0"/>
<rect x="915" y="680" width="1" height="7" fill="#c0c0c0"/>
<rect x="919" y="680" width="1" height="6" fill="#c0c0c0"/>
<rect x="923" y="680" width="1" height="8" fill="#c0c0c0"/>
<rect x="927" y="680" width="1" height="8" fill="#c0c0c0"/>
<rect x="931" y="680" width="1" height="9" fill="#c0c0c0"/>
<rect x="935" y="680" width="1" height="9" fill="#c0c0c0"/>
<rect x="939" y="680" width="1" height="10" fill="#c0c0c0"/>
<rect x="943" y="680" width="1" height="11" fill="#c0c0c0"/>
<rect x="947" y="680" width="1" height="12" fill="#c0c0c0"/>
<rect x="951" y="680" width="1" height="14" fill="#c0c0c0"/>
<rect x="955" y="680" width="1" height="15" fill="#c0c0c0"/>
<rect x="959" y="680" width="1" height="14" fill="#c0c0c0"/>
<rect x="963" y="680" width="1" height="14" fill="#c0c0c0"/>
<rect x="967" y="680" width="1" height="12" fill="#c0c0c0"/>
<rect x="971" y="680" width="1" height="9" fill="#c0c0c0"/>
<rect x="975" y="680" width="1" height="4" fill="#c0c0c0"/>
<rect x="979" y="679" width="1" height="2" fill="#c0c0c0"/>
<rect x="983" y="679" width="1" height="2" fill="#c0c0c0"/>
<rect x="987" y="680" width="1" height="2" fill="#c0c0c0"/>
<rect x="991" y="680" width="1" height="4" fill="#c0c0c0"/>
<rect x="995" y="680" width="1" height="6" fill="#c0c0c0"/>
<rect x="999" y="680" width="1" height="6" fill="#c0c0c0"/>
<rect x="1003" y="680" width="1" height="6" fill="#c0c0c0"/>
<rect x="1007" y="680" width="1" height="7" fill="#c0c0c0"/>
<rect x="1011" y="680" width="1" height="6" fill="#c0c0c0"/>
<rect x="1015" y="680" width="1" height="7" fill="#c0c0c0"/>
<rect x="1019" y="680" width="1" height="8" fill="#c0c0c0"/>
<rect x="1023" y="680" width="1" height="9" fill="#c0c0c0"/>
<rect x="1027" y="680" width="1" height="9" fill="#c0c0c0"/>
<rect x="1031" y="680" width="1" height="6" fill="#c0c0c0"/>
<rect x="1035" y="680" width="1" height="3" fill="#c0c0c0"/>
<rect x="1039" y="678" width="1" height="3" fill="#c0c0c0"/>
<rect x="1043" y="676" width="1" height="5" fill="#c0c0c0"/>
<rect x="1047" y="676" width="1" height="5" fill="#c0c0c0"/>
<rect x="1051" y="676" width="1" height="5" fill="#c0c0c0"/>
<rect x="1055" y="676" width="1" height="5" fill="#c0c0c0"/>
<rect x="1059" y="674" width="1" height="7" fill="#c0c0c0"/>
<rect x="1063" y="673" width="1" height="8" fill="#c0c0c0"/>
<rect x="1067" y="668" width="1" height="13" fill="#c0c0c0"/>
<rect x="1071" y="664" width="1" height="17" fill="#c0c0c0"/>
<rect x="1075" y="660" width="1" height="21" fill="#c0c0c0"/>
<rect x="1079" y="657" width="1" height="24" fill="#c0c0c0"/>
<rect x="1083" y="654" width="1" height="27" fill="#c0c0c0"/>
<rect x="1087" y="649" width="1" height="32" fill="#c0c0c0"/>
<rect x="1091" y="643" width="1" height="38" fill="#c0c0c0"/>
<rect x="1095" y="640" width="1" height="41" fill="#c0c0c0"/>
<rect x="1099" y="638" width="1" height="43" fill="#c0c0c0"/>
<rect x="1103" y="636" width="1" height="45" fill="#c0c0c0"/>
<rect x="1107" y="634" width="1" height="47" fill="#c0c0c0"/>
<rect x="1111" y="633" width="1" height="48" fill="#c0c0c0"/>
<rect x="1115" y="631" width="1" height="50" fill="#c0c0c0"/>
<rect x="1119" y="635" width="1" height="46" fill="#c0c0c0"/>
<rect x="1123" y="639" width="1" height="42" fill="#c0c0c0"/>
<rect x="1127" y="641" width="1" height="40" fill="#c0c0c0"/>
<rect x="1131" y="644" width="1" height="37" fill="#c0c0c0"/>
<rect x="1135" y="648" width="1" height="33" fill="#c0c0c0"/>
<rect x="1139" y="651" width="1" height="30" fill="#c0c0c0"/>
<rect x="1143" y="655" width="1" height="26" fill="#c0c0c0"/>
<rect x="1147" y="658" width="1" height="23" fill="#c0c0c0"/>
<rect x="1151" y="659" width="1" height="22" fill="#c0c0c0"/>
<rect x="1155" y="657" width="1" height="24" fill="#c0c0c0"/>
<rect x="1159" y="658" width="1" height="23" fill="#c0c0c0"/>
<rect x="1163" y="661" width="1" height="20" fill="#c0c0c0"/>
<rect x="1167" y="663" width="1" height="18" fill="#c0c0c0"/>
<rect x="1171" y="665" width="1" height="16" fill="#c0c0c0"/>
<rect x="1175" y="666" width="1" height="15" fill="#c0c0c0"/>
<rect x="1179" y="667" width="1" height="14" fill="#c0c0c0"/>
<rect x="1183" y="667" width="1" height="14" fill="#c0c0c0"/>
<rect x="1187" y="669" width="1" height="12" fill="#c0c0c0"/>
<rect x="1191" y="669" width="1" height="12" fill="#c0c0c0"/>
<rect x="1195" y="670" width="1" height="11" fill="#c0c0c0"/>
<rect x="1199" y="669" width="1" height="12" fill="#c0c0c0"/>
<rect x="1203" y="668" width="1" height="13" fill="#c0c0c0"/>
<rect x="1207" y="667" width="1" height="14" fill="#c0c0c0"/>
<rect x="1211" y="667" width="1" height="14" fill="#c0c0c0"/>
<rect x="1215" y="666" width="1" height="15" fill="#c0c0c0"/>
<rect x="1219" y="667" width="1" height="14" fill="#c0c0c0"/>
<rect x="1223" y="665" width="1" height="16" fill="#c0c0c0"/>
<rect x="1227" y="663" width="1" height="18" fill="#c0c0c0"/>
<rect x="1231" y="661" width="1" height="20" fill="#c0c0c0"/>
<rect x="1235" y="659" width="1" height="22" fill="#c0c0c0"/>
<rect x="1239" y="658" width="1" height="23" fill="#c0c0c0"/>
<rect x="1243" y="657" width="1" height="24" fill="#c0c0c0"/>
<rect x="1247" y="656" width="1" height="25" fill="#c0c0c0"/>
<rect x="1251" y="654" width="1" height="27" fill="#c0c0c0"/>
<rect x="1255" y="650" width="1" height="31" fill="#c0c0c0"/>
<rect x="1259" y="646" width="1" height="35" fill="#c0c0c0"/>
<rect x="1263" y="643" width="1" height="38" fill="#c0c0c0"/>
<rect x="1267" y="641" width="1" height="40" fill="#c0c0c0"/>
<polyline points="3,686.5 7,686.5 11,687.5 15,688.5 19,689.5 23,691.5 27,692.5 31,693.5 35,694.5 39,695.5 43,695.5 47,695.5 51,695.5 55,694.5 59,693.5 63,692.5 67,691.5 71,689.5 75,687.5 79,686.5 83,685.5 87,685.5 91,685.5 95,685.5 99,686.5 103,687.5 107,688.5 111,689.5 115,689.5 119,690.5 123,690.5 127,690.5 131,690.5 135,690.5 139,691.5 143,692.5 147,693.5 151,694.5 155,695.5 159,696.5 163,696.5 167,697.5 171,696.5 175,696.5 179,695.5 183,694.5 187,693.5 191,692.5 195,691.5 199,690.5 203,689.5 207,688.5 211,688.5 215,687.5 219,687.5 223,687.5 227,688.5 231,689.5 235,689.5 239,690.5 243,691.5 247,692.5 251,693.5 255,693.5 259,693.5 263,693.5 267,693.5 271,692.5 275,691.5 279,690.5 283,688.5 287,687.5 291,686.5 295,684.5 299,682.5 303,680.5 307,678.5 311,676.5 315,674.5 319,672.5 323,670.5 327,669.5 331,668.5 335,668.5 339,668.5 343,668.5 347,668.5 351,668.5 355,668.5 359,669.5 363,669.5 367,669.5 371,670.5 375,671.5 379,672.5 383,673.5 387,675.5 391,677.5 395,679.5 399,681.5 403,683.5 407,683.5 411,684.5 415,684.5 419,684.5 423,684.5 427,684.5 431,684.5 435,683.5 439,684.5 443,684.5 447,684.5 451,685.5 455,685.5 459,685.5 463,685.5 467,684.5 471,683.5 475,683.5 479,682.5 483,681.5 487,680.5 491,679.5 495,678.5 499,677.5 503,677.5 507,676.5 511,675.5 515,674.5 519,673.5 523,673.5 527,673.5 531,673.5 535,674.5 539,674.5 543,674.5 547,675.5 551,675.5 555,674.5 559,673.5 563,672.5 567,671.5 571,670.5 575,669.5 579,669.5 583,669.5 587,669.5 591,670.5 595,671.5 599,672.5 603,674.5 607,675.5 611,676.5 615,677.5 619,678.5 623,679.5 627,679.5 631,680.5 635,681.5 639,682.5 643,684.5 647,685.5 651,686.5 655,688.5 659,689.5 663,690.5 667,690.5 671,690.5 675,691.5 679,691.5 683,691.5 687,691.5 691,691.5 695,691.5 699,692.5 703,693.5 707,694.5 711,696.5 715,698.5 719,699.5 723,701.5 727,703.5 731,704.5 735,705.5 739,706.5 743,706.5 747,706.5 751,705.5 755,704.5 759,702.5 763,700.5 767,696.5 771,692.5 775,688.5 779,683.5 783,678.5 787,672.5 791,666.5 795,660.5 799,655.5 803,652.5 807,650.5 811,649.5 815,648.5 819,650.5 823,653.5 827,659.5 831,665.5 835,673.5 839,681.5 843,687.5 847,693.5 851,698.5 855,701.5 859,703.5 863,702.5 867,701.5 871,698.5 875,695.5 879,693.5 883,691.5 887,691.5 891,690.5 895,691.5 899,692.5 903,693.5 907,693.5 911,693.5 915,692.5 919,691.5 923,690.5 927,689.5 931,688.5 935,688.5 939,687.5 943,688.5 947,688.5 951,689.5 955,690.5 959,690.5 963,691.5 967,691.5 971,691.5 975,691.5 979,689.5 983,688.5 987,687.5 991,686.5 995,685.5 999,684.5 1003,683.5 1007,683.5 1011,683.5 1015,684.5 1019,685.5 1023,686.5 1027,686.5 1031,686.5 1035,686.5 1039,685.5 1043,684.5 1047,683.5 1051,682.5 1055,681.5 1059,679.5 1063,677.5 1067,675.5 1071,673.5 1075,671.5 1079,669.5 1083,667.5 1087,664.5 1091,660.5 1095,656.5 1099,653.5 1103,649.5 1107,646.5 1111,643.5 1115,640.5 1119,638.5 1123,637.5 1127,636.5 1131,637.5 1135,638.5 1139,640.5 1143,642.5 1147,645.5 1151,648.5 1155,650.5 1159,653.5 1163,655.5 1167,657.5 1171,659.5 1175,660.5 1179,662.5 1183,663.5 1187,664.5 1191,665.5 1195,667.5 1199,667.5 1203,668.5 1207,668.5 1211,668.5 1215,668.5 1219,668.5 1223,668.5 1227,667.5 1231,666.5 1235,665.5 1239,664.5 1243,663.5 1247,661.5 1251,660.5 1255,658.5 1259,656.5 1263,654.5 1267,652.5" fill="none" stroke="#ff0000" stroke-width="1" stroke-dasharray="3,3"/>
</svg>
<text x="6.73" y="638" fill="#000" font-size="10" textLength="148.43" lengthAdjust="spacingAndGlyphs">MACD(12,26,9) 0.009768 0.007101</text>
<text x="1598.64" y="636" fill="#000" font-size="10" textLength="38.72" lengthAdjust="spacingAndGlyphs">0.013121</text>
<text x="1598.73" y="684" fill="#000" font-size="10" textLength="18.34" lengthAdjust="spacingAndGlyphs">0.00</text>
<text x="1598.66" y="714" fill="#000" font-size="10" textLength="44.78" lengthAdjust="spacingAndGlyphs">-0.008933</text>
<rect x="1596" y="680" width="2" height="1" fill="#000"/>
<rect x="1596" y="627" width="2" height="1" fill="#000"/>
<rect x="1596" y="716" width="2" height="1" fill="#000"/>
<rect x="3" y="718" width="1" height="3" fill="#000"/>
<text x="1.84" y="730" fill="#000" font-size="10" textLength="47.55" lengthAdjust="spacingAndGlyphs">23 Jul 2019</text>
<rect x="67" y="718" width="1" height="3" fill="#000"/>
<text x="65.57" y="730" fill="#000" font-size="10" textLength="54.18" lengthAdjust="spacingAndGlyphs">10 Aug 2019</text>
<rect x="131" y="718" width="1" height="3" fill="#000"/>
<text x="129.83" y="730" fill="#000" font-size="10" textLength="53.22" lengthAdjust="spacingAndGlyphs">29 Aug 2019</text>
<rect x="195" y="718" width="1" height="3" fill="#000"/>
<text x="193.59" y="730" fill="#000" font-size="10" textLength="52.95" lengthAdjust="spacingAndGlyphs">17 Sep 2019</text>
<rect x="259" y="718" width="1" height="3" fill="#000"/>
<text x="257.92" y="730" fill="#000" font-size="10" textLength="46.12" lengthAdjust="spacingAndGlyphs">5 Oct 2019</text>
<rect x="323" y="718" width="1" height="3" fill="#000"/>
<text x="321.83" y="730" fill="#000" font-size="10" textLength="50.91" lengthAdjust="spacingAndGlyphs">24 Oct 2019</text>
<rect x="387" y="718" width="1" height="3" fill="#000"/>
<text x="385.57" y="730" fill="#000" font-size="10" textLength="54.38" lengthAdjust="spacingAndGlyphs">12 Nov 2019</text>
<rect x="451" y="718" width="1" height="3" fill="#000"/>
<text x="449.93" y="730" fill="#000" font-size="10" textLength="54.62" lengthAdjust="spacingAndGlyphs">30 Nov 2019</text>
<rect x="515" y="718" width="1" height="3" fill="#000"/>
<text x="513.59" y="730" fill="#000" font-size="10" textLength="52.95" lengthAdjust="spacingAndGlyphs">19 Dec 2019</text>
<rect x="579" y="718" width="1" height="3" fill="#000"/>
<text x="577.83" y="730" fill="#000" font-size="10" textLength="45.33" lengthAdjust="spacingAndGlyphs">7 Jan 2020</text>
<rect x="643" y="718" width="1" height="3" fill="#000"/>
<text x="641.84" y="730" fill="#000" font-size="10" textLength="50.62" lengthAdjust="spacingAndGlyphs">25 Jan 2020</text>
<rect x="707" y="718" width="1" height="3" fill="#000"/>
<text x="705.59" y="730" fill="#000" font-size="10" textLength="52.68" lengthAdjust="spacingAndGlyphs">13 Feb 2020</text>
<rect x="771" y="718" width="1" height="3" fill="#000"/>
<text x="769.94" y="730" fill="#000" font-size="10" textLength="47.42" lengthAdjust="spacingAndGlyphs">3 Mar 2020</text>
<rect x="835" y="718" width="1" height="3" fill="#000"/>
<text x="833.83" y="730" fill="#000" font-size="10" textLength="52.13" lengthAdjust="spacingAndGlyphs">21 Mar 2020</text>
<rect x="899" y="718" width="1" height="3" fill="#000"/>
<text x="897.85" y="730" fill="#000" font-size="10" textLength="46.92" lengthAdjust="spacingAndGlyphs">9 Apr 2020</text>
<rect x="963" y="718" width="1" height="3" fill="#000"/>
<text x="961.82" y="730" fill="#000" font-size="10" textLength="51.55" lengthAdjust="spacingAndGlyphs">28 Apr 2020</text>
<rect x="1027" y="718" width="1" height="3" fill="#000"/>
<text x="1025.56" y="730" fill="#000" font-size="10" textLength="56.02" lengthAdjust="spacingAndGlyphs">16 May 2020</text>
<rect x="1091" y="718" width="1" height="3" fill="#000"/>
<text x="1090.09" y="730" fill="#000" font-size="10" textLength="45.37" lengthAdjust="spacingAndGlyphs">4 Jun 2020</text>
<rect x="1155" y="718" width="1" height="3" fill="#000"/>
<text x="1153.84" y="730" fill="#000" font-size="10" textLength="50.82" lengthAdjust="spacingAndGlyphs">23 Jun 2020</text>
<rect x="1219" y="718" width="1" height="3" fill="#000"/>
<text x="1217.60" y="730" fill="#000" font-size="10" textLength="47.76" lengthAdjust="spacingAndGlyphs">11 Jul 2020</text>
<rect x="0" y="738" width="1638" height="1" fill="#e3e3e3"/>
<rect x="0" y="740" width="1638" height="19" fill="#f0f0f0"/>
<rect x="0" y="740" width="1638" height="1" fill="#000"/>
<rect x="0" y="741" width="1638" height="1" fill="#fff"/>
<rect x="5" y="740" width="102" height="19" fill="#fff"/>
<rect x="4" y="740" width="1" height="19" fill="#000"/>
<rect x="107" y="740" width="1" height="19" fill="#000"/>
<rect x="4" y="758" width="104" height="1" fill="#000"/>
<text x="15.83" y="755" fill="#000" font-size="12" textLength="79.90" lengthAdjust="spacingAndGlyphs">EURUSD,Daily</text>
<text x="117.68" y="755" fill="#707070" font-size="12" textLength="79.24" lengthAdjust="spacingAndGlyphs">USDCHF,Daily</text>
<rect x="208" y="743" width="1" height="14" fill="#555555"/>
<text x="218.98" y="755" fill="#707070" font-size="12" textLength="81.55" lengthAdjust="spacingAndGlyphs">AUDUSD,Daily</text>
<rect x="312" y="743" width="1" height="14" fill="#555555"/>
<text x="322.06" y="755" fill="#707070" font-size="12" textLength="81.96" lengthAdjust="spacingAndGlyphs">USDCAD,Daily</text>
<rect x="416" y="743" width="1" height="14" fill="#555555"/>
<text x="424.64" y="755" fill="#707070" font-size="12" textLength="84.38" lengthAdjust="spacingAndGlyphs">USDCNH,Daily</text>
<rect x="520" y="743" width="1" height="14" fill="#555555"/>
<text x="530.20" y="755" fill="#707070" font-size="12" textLength="78.92" lengthAdjust="spacingAndGlyphs">EURUSD,M15</text>
<rect x="620" y="743" width="1" height="14" fill="#555555"/>
<text x="630.38" y="755" fill="#707070" font-size="12" textLength="78.99" lengthAdjust="spacingAndGlyphs">GBPUSD,M30</text>
<rect x="720" y="743" width="1" height="14" fill="#555555"/>
<text x="730.53" y="755" fill="#707070" font-size="12" textLength="81.00" lengthAdjust="spacingAndGlyphs">XAUUSD,Daily</text>
<rect x="824" y="743" width="1" height="14" fill="#555555"/>
<text x="834.47" y="755" fill="#707070" font-size="12" textLength="50.84" lengthAdjust="spacingAndGlyphs">HK50,H1</text>
<rect x="896" y="743" width="1" height="14" fill="#555555"/>
<text x="906.23" y="755" fill="#707070" font-size="12" textLength="57.98" lengthAdjust="spacingAndGlyphs">UK100,H1</text>
<rect x="976" y="743" width="1" height="14" fill="#555555"/>
<text x="986.24" y="755" fill="#707070" font-size="12" textLength="57.67" lengthAdjust="spacingAndGlyphs">UK100,H1</text>
<rect x="1056" y="743" width="1" height="14" fill="#555555"/>
<text x="1066.60" y="755" fill="#707070" font-size="12" textLength="57.48" lengthAdjust="spacingAndGlyphs">GER30,H1</text>
<rect x="1136" y="743" width="1" height="14" fill="#555555"/>
<text x="1145.22" y="755" fill="#707070" font-size="12" textLength="55.87" lengthAdjust="spacingAndGlyphs">FRA40,H1</text>
<rect x="1212" y="743" width="1" height="14" fill="#555555"/>
<text x="1221.44" y="755" fill="#707070" font-size="12" textLength="63.58" lengthAdjust="spacingAndGlyphs">USOil,Daily</text>
<rect x="1296" y="743" width="1" height="14" fill="#555555"/>
<text x="1305.10" y="755" fill="#707070" font-size="12" textLength="64.17" lengthAdjust="spacingAndGlyphs">USDJPY,H1</text>
<rect x="1380" y="743" width="1" height="14" fill="#555555"/>
<text x="1389.85" y="755" fill="#707070" font-size="12" textLength="58.39" lengthAdjust="spacingAndGlyphs">DJ30,M15</text>
<rect x="1460" y="743" width="1" height="14" fill="#555555"/>
<text x="1469.66" y="755" fill="#707070" font-size="12" textLength="79.50" lengthAdjust="spacingAndGlyphs">CHINA300,H4</text>
<rect x="1560" y="743" width="1" height="14" fill="#555555"/>
<path d="M1611,749 L1614.5,745.5 L1614.5,752.5 Z" fill="#a0a0a0"/>
<path d="M1630,745.5 L1633.5,749 L1630,752.5 Z" fill="#a0a0a0"/>
<path d="M1271,24 L1280,24 L1275.5,29 Z" fill="#c0c0c0"/>
</svg>
</body></html>
